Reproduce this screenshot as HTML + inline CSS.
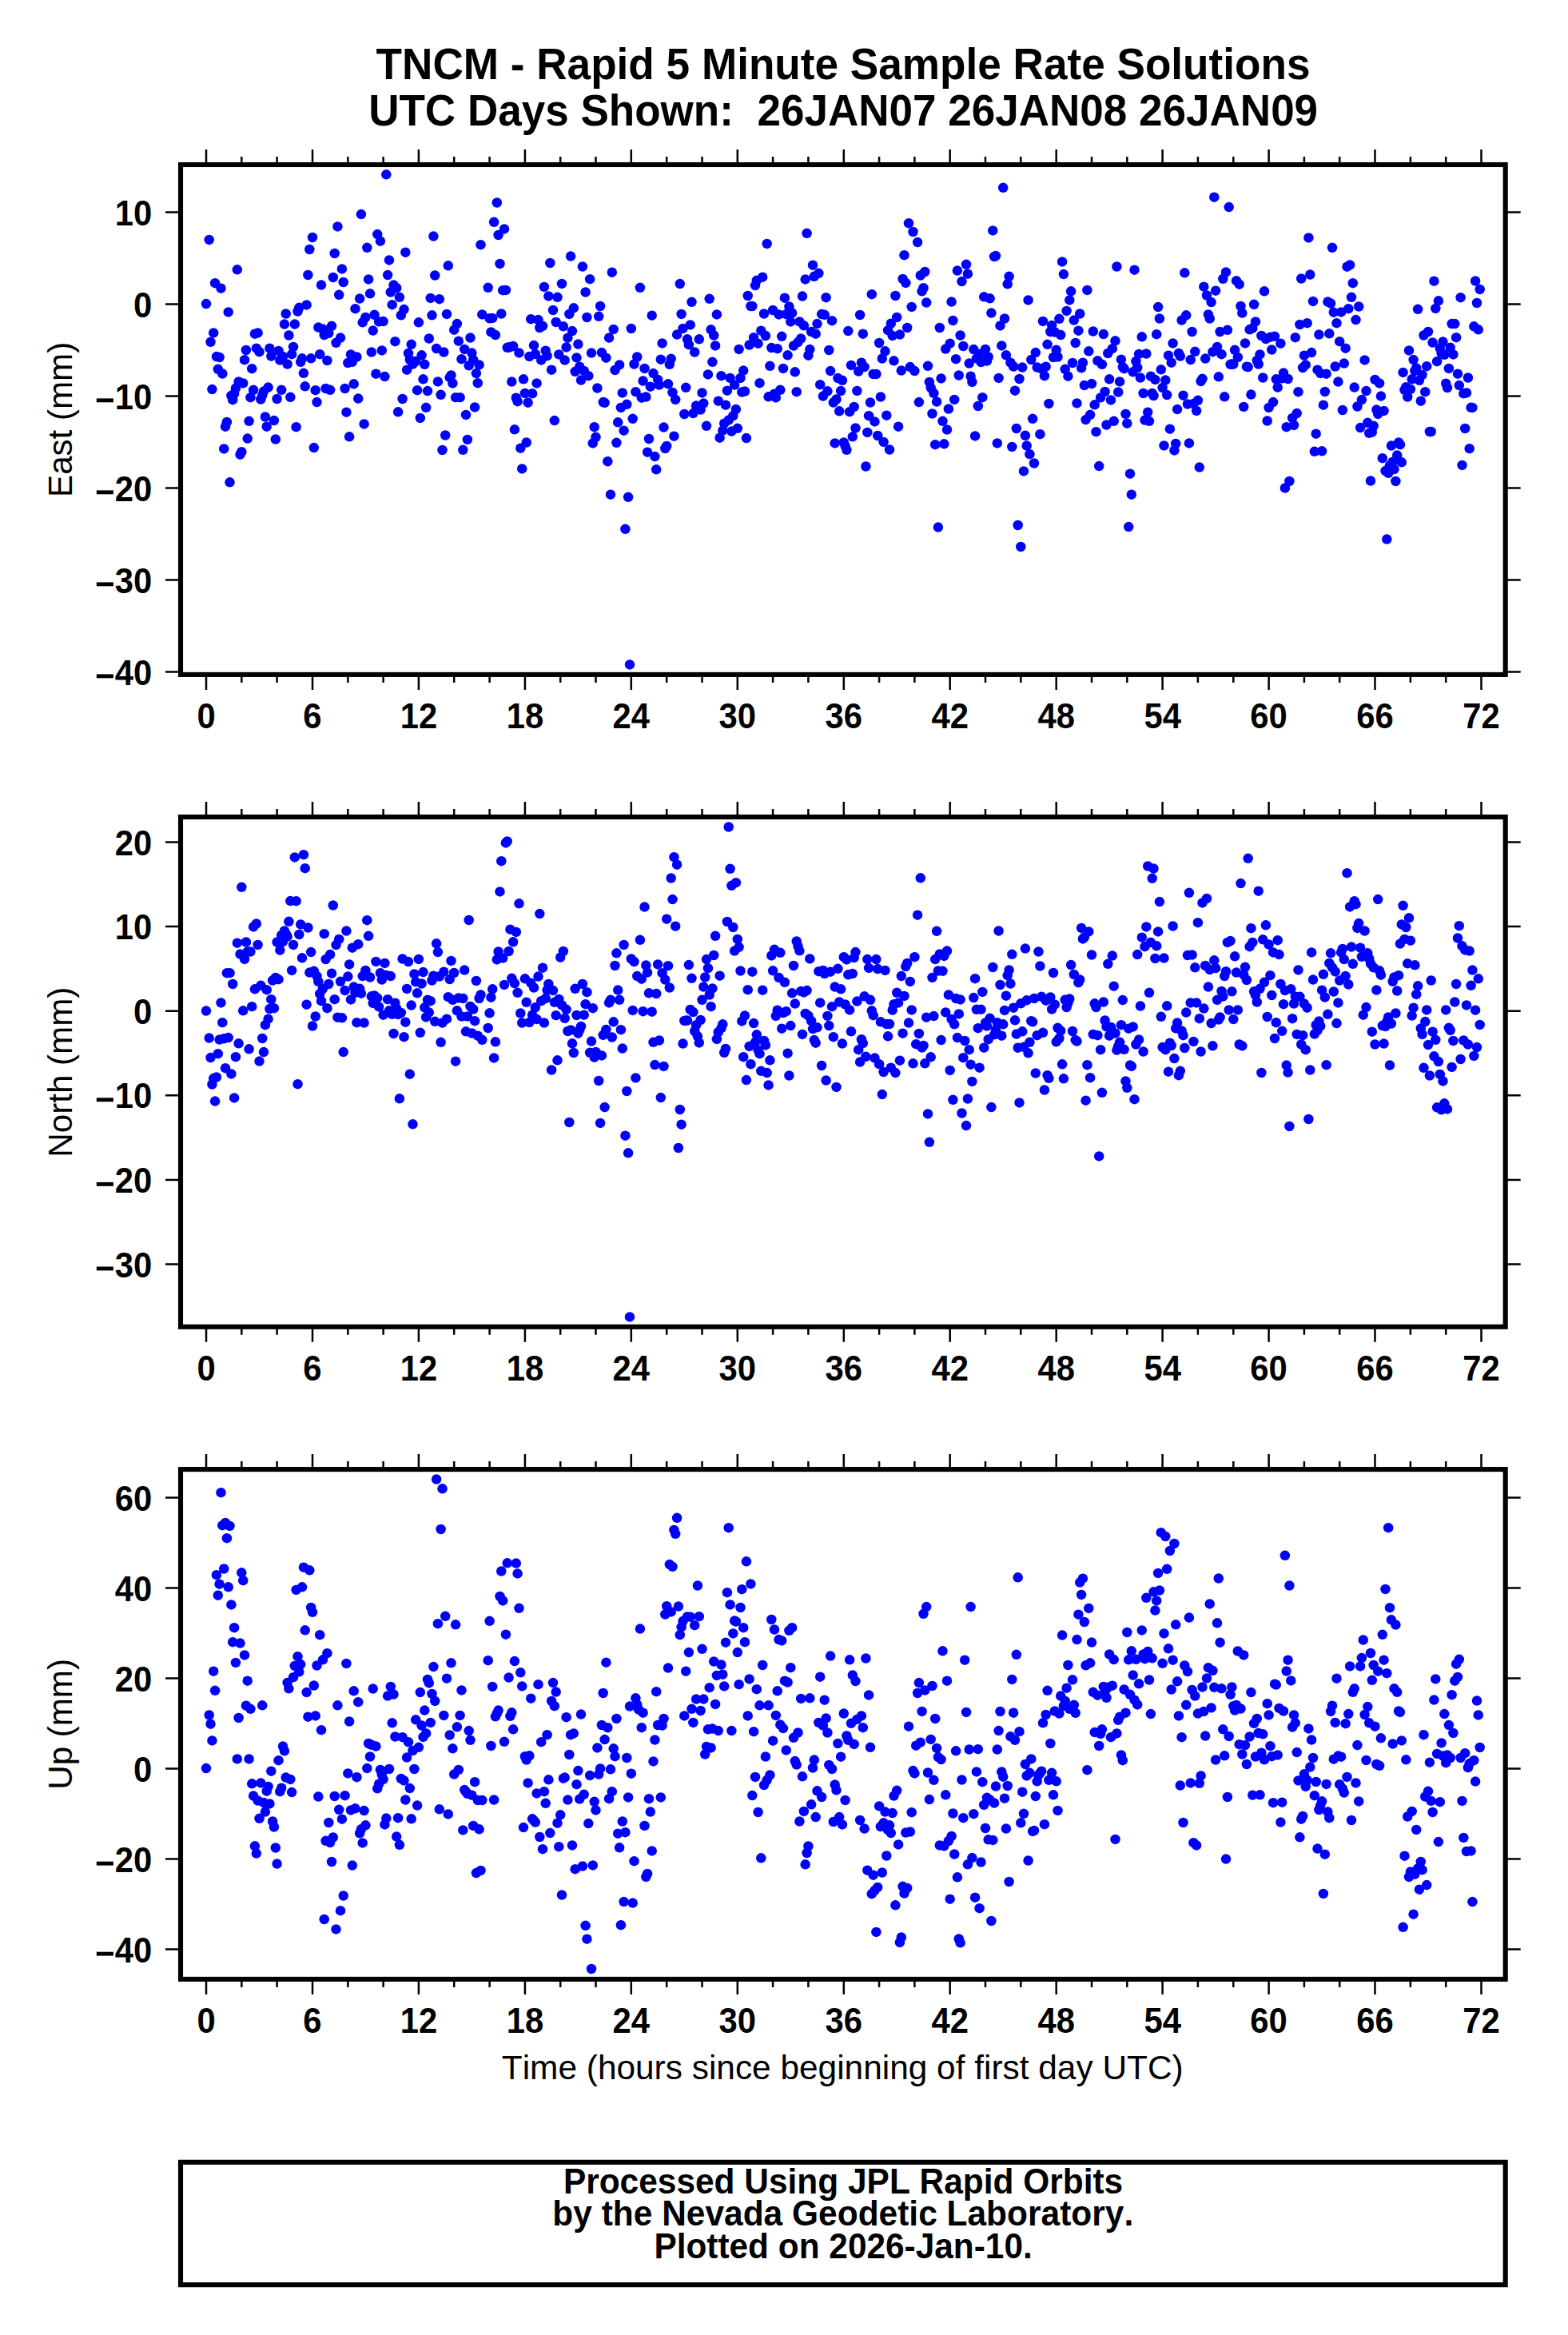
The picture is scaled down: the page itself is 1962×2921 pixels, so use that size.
<!DOCTYPE html>
<html><head><meta charset="utf-8"><title>TNCM</title>
<style>
html,body{margin:0;padding:0;background:#fff;}
svg{display:block;}
text{font-family:"Liberation Sans",sans-serif;fill:#000;font-kerning:none;white-space:pre;}
.b{font-weight:bold;}
.f{fill:none;stroke:#000;stroke-width:6.1;stroke-linejoin:miter;}
.t{stroke:#000;stroke-width:2.5;fill:none;}
.d{fill:#0000ff;}
</style></head><body>
<svg width="1962" height="2921" viewBox="0 0 1962 2921">
<rect x="0" y="0" width="1962" height="2921" fill="#fff"/>
<text class="b" font-size="54.4" transform="translate(470.60,99.0) scale(0.9767,1.035)">TNCM - Rapid 5 Minute Sample Rate Solutions</text>
<text class="b" font-size="54.4" transform="translate(461.17,156.8) scale(0.9752,1.035)">UTC Days Shown:  26JAN07 26JAN08 26JAN09</text>
<path class="t" d="M258.0 206.0v-19M258.0 843.9v19M302.3 206.0v-10M302.3 843.9v10M346.6 206.0v-10M346.6 843.9v10M391.0 206.0v-19M391.0 843.9v19M435.3 206.0v-10M435.3 843.9v10M479.6 206.0v-10M479.6 843.9v10M523.9 206.0v-19M523.9 843.9v19M568.2 206.0v-10M568.2 843.9v10M612.6 206.0v-10M612.6 843.9v10M656.9 206.0v-19M656.9 843.9v19M701.2 206.0v-10M701.2 843.9v10M745.5 206.0v-10M745.5 843.9v10M789.8 206.0v-19M789.8 843.9v19M834.2 206.0v-10M834.2 843.9v10M878.5 206.0v-10M878.5 843.9v10M922.8 206.0v-19M922.8 843.9v19M967.1 206.0v-10M967.1 843.9v10M1011.4 206.0v-10M1011.4 843.9v10M1055.8 206.0v-19M1055.8 843.9v19M1100.1 206.0v-10M1100.1 843.9v10M1144.4 206.0v-10M1144.4 843.9v10M1188.7 206.0v-19M1188.7 843.9v19M1233.0 206.0v-10M1233.0 843.9v10M1277.3 206.0v-10M1277.3 843.9v10M1321.7 206.0v-19M1321.7 843.9v19M1366.0 206.0v-10M1366.0 843.9v10M1410.3 206.0v-10M1410.3 843.9v10M1454.6 206.0v-19M1454.6 843.9v19M1498.9 206.0v-10M1498.9 843.9v10M1543.3 206.0v-10M1543.3 843.9v10M1587.6 206.0v-19M1587.6 843.9v19M1631.9 206.0v-10M1631.9 843.9v10M1676.2 206.0v-10M1676.2 843.9v10M1720.5 206.0v-19M1720.5 843.9v19M1764.9 206.0v-10M1764.9 843.9v10M1809.2 206.0v-10M1809.2 843.9v10M1853.5 206.0v-19M1853.5 843.9v19M226.0 265.4h-19M1883.7 265.4h19M226.0 380.4h-19M1883.7 380.4h19M226.0 495.4h-19M1883.7 495.4h19M226.0 610.4h-19M1883.7 610.4h19M226.0 725.4h-19M1883.7 725.4h19M226.0 840.4h-19M1883.7 840.4h19"/>
<g class="d">
<circle cx="258.0" cy="380.1" r="6.25"/><circle cx="261.7" cy="299.9" r="6.25"/><circle cx="263.5" cy="427.8" r="6.25"/><circle cx="265.4" cy="487.1" r="6.25"/><circle cx="267.2" cy="416.4" r="6.25"/><circle cx="269.1" cy="354.2" r="6.25"/><circle cx="270.9" cy="446.1" r="6.25"/><circle cx="272.8" cy="461.8" r="6.25"/>
<circle cx="274.6" cy="447.0" r="6.25"/><circle cx="276.5" cy="360.7" r="6.25"/><circle cx="278.3" cy="467.5" r="6.25"/><circle cx="280.2" cy="561.4" r="6.25"/><circle cx="282.0" cy="533.7" r="6.25"/><circle cx="283.9" cy="527.9" r="6.25"/><circle cx="285.7" cy="390.4" r="6.25"/><circle cx="287.5" cy="603.3" r="6.25"/>
<circle cx="289.4" cy="495.0" r="6.25"/><circle cx="291.2" cy="500.2" r="6.25"/><circle cx="293.1" cy="492.3" r="6.25"/><circle cx="294.9" cy="485.7" r="6.25"/><circle cx="296.8" cy="337.3" r="6.25"/><circle cx="298.6" cy="477.4" r="6.25"/><circle cx="300.5" cy="568.7" r="6.25"/><circle cx="302.3" cy="565.2" r="6.25"/>
<circle cx="304.2" cy="479.4" r="6.25"/><circle cx="306.0" cy="450.2" r="6.25"/><circle cx="307.9" cy="438.0" r="6.25"/><circle cx="309.7" cy="548.6" r="6.25"/><circle cx="311.6" cy="526.8" r="6.25"/><circle cx="313.4" cy="497.2" r="6.25"/><circle cx="315.2" cy="461.2" r="6.25"/><circle cx="317.1" cy="487.8" r="6.25"/>
<circle cx="318.9" cy="417.7" r="6.25"/><circle cx="320.8" cy="435.7" r="6.25"/><circle cx="322.6" cy="416.4" r="6.25"/><circle cx="324.5" cy="440.2" r="6.25"/><circle cx="326.3" cy="499.5" r="6.25"/><circle cx="328.2" cy="494.6" r="6.25"/><circle cx="330.0" cy="489.6" r="6.25"/><circle cx="331.9" cy="521.5" r="6.25"/>
<circle cx="333.7" cy="533.7" r="6.25"/><circle cx="335.6" cy="484.6" r="6.25"/><circle cx="337.4" cy="435.7" r="6.25"/><circle cx="339.3" cy="445.6" r="6.25"/><circle cx="342.9" cy="526.1" r="6.25"/><circle cx="344.8" cy="549.5" r="6.25"/><circle cx="346.6" cy="499.0" r="6.25"/><circle cx="348.5" cy="438.9" r="6.25"/>
<circle cx="350.3" cy="450.6" r="6.25"/><circle cx="352.2" cy="487.8" r="6.25"/><circle cx="354.0" cy="445.9" r="6.25"/><circle cx="355.9" cy="405.6" r="6.25"/><circle cx="357.7" cy="392.5" r="6.25"/><circle cx="359.6" cy="455.5" r="6.25"/><circle cx="361.4" cy="419.5" r="6.25"/><circle cx="363.3" cy="496.8" r="6.25"/>
<circle cx="365.1" cy="443.2" r="6.25"/><circle cx="367.0" cy="433.9" r="6.25"/><circle cx="368.8" cy="405.6" r="6.25"/><circle cx="370.6" cy="534.2" r="6.25"/><circle cx="372.5" cy="389.5" r="6.25"/><circle cx="374.3" cy="384.8" r="6.25"/><circle cx="376.2" cy="452.8" r="6.25"/><circle cx="378.0" cy="448.3" r="6.25"/>
<circle cx="379.9" cy="466.8" r="6.25"/><circle cx="381.7" cy="483.3" r="6.25"/><circle cx="383.6" cy="381.4" r="6.25"/><circle cx="385.4" cy="344.0" r="6.25"/><circle cx="387.3" cy="312.0" r="6.25"/><circle cx="389.1" cy="448.3" r="6.25"/><circle cx="391.0" cy="297.0" r="6.25"/><circle cx="392.8" cy="560.1" r="6.25"/>
<circle cx="394.7" cy="488.2" r="6.25"/><circle cx="396.5" cy="503.1" r="6.25"/><circle cx="398.3" cy="409.6" r="6.25"/><circle cx="400.2" cy="443.2" r="6.25"/><circle cx="402.0" cy="356.6" r="6.25"/><circle cx="403.9" cy="411.4" r="6.25"/><circle cx="405.7" cy="419.0" r="6.25"/><circle cx="407.6" cy="486.0" r="6.25"/>
<circle cx="409.4" cy="451.0" r="6.25"/><circle cx="411.3" cy="416.8" r="6.25"/><circle cx="413.1" cy="487.8" r="6.25"/><circle cx="415.0" cy="407.8" r="6.25"/><circle cx="416.8" cy="347.0" r="6.25"/><circle cx="418.7" cy="317.0" r="6.25"/><circle cx="420.5" cy="428.8" r="6.25"/><circle cx="422.4" cy="283.4" r="6.25"/>
<circle cx="424.2" cy="368.8" r="6.25"/><circle cx="426.0" cy="422.6" r="6.25"/><circle cx="427.9" cy="336.4" r="6.25"/><circle cx="429.7" cy="353.0" r="6.25"/><circle cx="431.6" cy="486.0" r="6.25"/><circle cx="433.4" cy="515.7" r="6.25"/><circle cx="435.3" cy="454.0" r="6.25"/><circle cx="437.1" cy="546.3" r="6.25"/>
<circle cx="439.0" cy="443.4" r="6.25"/><circle cx="440.8" cy="452.8" r="6.25"/><circle cx="442.7" cy="480.3" r="6.25"/><circle cx="444.5" cy="386.2" r="6.25"/><circle cx="446.4" cy="446.5" r="6.25"/><circle cx="448.2" cy="498.6" r="6.25"/><circle cx="450.1" cy="373.6" r="6.25"/><circle cx="451.9" cy="268.1" r="6.25"/>
<circle cx="453.7" cy="403.3" r="6.25"/><circle cx="455.6" cy="530.4" r="6.25"/><circle cx="457.4" cy="397.0" r="6.25"/><circle cx="459.3" cy="309.8" r="6.25"/><circle cx="461.1" cy="349.4" r="6.25"/><circle cx="463.0" cy="367.3" r="6.25"/><circle cx="464.8" cy="440.5" r="6.25"/><circle cx="466.7" cy="413.6" r="6.25"/>
<circle cx="468.5" cy="393.8" r="6.25"/><circle cx="470.4" cy="467.7" r="6.25"/><circle cx="472.2" cy="293.1" r="6.25"/><circle cx="474.1" cy="402.4" r="6.25"/><circle cx="475.9" cy="301.7" r="6.25"/><circle cx="477.8" cy="438.4" r="6.25"/><circle cx="479.6" cy="402.1" r="6.25"/><circle cx="481.4" cy="471.1" r="6.25"/>
<circle cx="483.3" cy="218.3" r="6.25"/><circle cx="485.1" cy="344.1" r="6.25"/><circle cx="487.0" cy="325.4" r="6.25"/><circle cx="488.8" cy="365.5" r="6.25"/><circle cx="490.7" cy="381.2" r="6.25"/><circle cx="492.5" cy="356.6" r="6.25"/><circle cx="494.4" cy="427.2" r="6.25"/><circle cx="496.2" cy="360.2" r="6.25"/>
<circle cx="498.1" cy="515.3" r="6.25"/><circle cx="499.9" cy="371.8" r="6.25"/><circle cx="501.8" cy="394.3" r="6.25"/><circle cx="503.6" cy="499.0" r="6.25"/><circle cx="505.5" cy="387.1" r="6.25"/><circle cx="507.3" cy="315.7" r="6.25"/><circle cx="509.1" cy="462.7" r="6.25"/><circle cx="511.0" cy="442.0" r="6.25"/>
<circle cx="512.8" cy="450.1" r="6.25"/><circle cx="514.7" cy="430.8" r="6.25"/><circle cx="516.5" cy="455.5" r="6.25"/><circle cx="518.4" cy="452.8" r="6.25"/><circle cx="520.2" cy="451.9" r="6.25"/><circle cx="522.1" cy="488.2" r="6.25"/><circle cx="523.9" cy="403.3" r="6.25"/><circle cx="525.8" cy="522.9" r="6.25"/>
<circle cx="527.6" cy="444.3" r="6.25"/><circle cx="529.5" cy="474.3" r="6.25"/><circle cx="531.3" cy="455.8" r="6.25"/><circle cx="533.1" cy="509.8" r="6.25"/><circle cx="535.0" cy="489.1" r="6.25"/><circle cx="536.8" cy="423.5" r="6.25"/><circle cx="538.7" cy="372.9" r="6.25"/><circle cx="540.5" cy="394.3" r="6.25"/>
<circle cx="542.4" cy="295.6" r="6.25"/><circle cx="544.2" cy="344.5" r="6.25"/><circle cx="546.1" cy="436.0" r="6.25"/><circle cx="547.9" cy="477.4" r="6.25"/><circle cx="549.8" cy="374.2" r="6.25"/><circle cx="551.6" cy="493.8" r="6.25"/><circle cx="553.5" cy="563.0" r="6.25"/><circle cx="555.3" cy="440.5" r="6.25"/>
<circle cx="557.2" cy="544.5" r="6.25"/><circle cx="559.0" cy="392.9" r="6.25"/><circle cx="560.8" cy="332.3" r="6.25"/><circle cx="562.7" cy="472.2" r="6.25"/><circle cx="564.5" cy="469.5" r="6.25"/><circle cx="566.4" cy="479.4" r="6.25"/><circle cx="568.2" cy="412.7" r="6.25"/><circle cx="570.1" cy="497.2" r="6.25"/>
<circle cx="571.9" cy="405.1" r="6.25"/><circle cx="573.8" cy="426.7" r="6.25"/><circle cx="575.6" cy="497.2" r="6.25"/><circle cx="577.5" cy="449.2" r="6.25"/><circle cx="579.3" cy="562.8" r="6.25"/><circle cx="581.2" cy="436.9" r="6.25"/><circle cx="583.0" cy="518.9" r="6.25"/><circle cx="584.9" cy="549.9" r="6.25"/>
<circle cx="586.7" cy="457.3" r="6.25"/><circle cx="588.5" cy="422.6" r="6.25"/><circle cx="590.4" cy="441.6" r="6.25"/><circle cx="592.2" cy="450.1" r="6.25"/><circle cx="594.1" cy="509.4" r="6.25"/><circle cx="595.9" cy="467.1" r="6.25"/><circle cx="597.8" cy="479.2" r="6.25"/><circle cx="599.6" cy="456.4" r="6.25"/>
<circle cx="601.5" cy="306.2" r="6.25"/><circle cx="603.3" cy="393.4" r="6.25"/><circle cx="610.7" cy="359.8" r="6.25"/><circle cx="612.6" cy="398.3" r="6.25"/><circle cx="614.4" cy="415.4" r="6.25"/><circle cx="616.2" cy="397.9" r="6.25"/><circle cx="618.1" cy="277.8" r="6.25"/><circle cx="619.9" cy="419.1" r="6.25"/>
<circle cx="621.8" cy="253.5" r="6.25"/><circle cx="623.6" cy="294.0" r="6.25"/><circle cx="625.5" cy="329.9" r="6.25"/><circle cx="627.3" cy="392.5" r="6.25"/><circle cx="629.2" cy="363.2" r="6.25"/><circle cx="631.0" cy="286.4" r="6.25"/><circle cx="632.9" cy="362.9" r="6.25"/><circle cx="634.7" cy="434.8" r="6.25"/>
<circle cx="636.6" cy="434.5" r="6.25"/><circle cx="638.4" cy="434.2" r="6.25"/><circle cx="640.3" cy="477.6" r="6.25"/><circle cx="642.1" cy="433.0" r="6.25"/><circle cx="643.9" cy="537.3" r="6.25"/><circle cx="645.8" cy="497.7" r="6.25"/><circle cx="647.6" cy="502.2" r="6.25"/><circle cx="649.5" cy="441.4" r="6.25"/>
<circle cx="651.3" cy="560.7" r="6.25"/><circle cx="653.2" cy="586.4" r="6.25"/><circle cx="655.0" cy="474.3" r="6.25"/><circle cx="656.9" cy="492.0" r="6.25"/><circle cx="658.7" cy="553.5" r="6.25"/><circle cx="660.6" cy="503.7" r="6.25"/><circle cx="662.4" cy="445.9" r="6.25"/><circle cx="664.3" cy="399.2" r="6.25"/>
<circle cx="666.1" cy="492.3" r="6.25"/><circle cx="668.0" cy="432.1" r="6.25"/><circle cx="669.8" cy="442.9" r="6.25"/><circle cx="671.6" cy="479.4" r="6.25"/><circle cx="673.5" cy="400.1" r="6.25"/><circle cx="675.3" cy="410.0" r="6.25"/><circle cx="677.2" cy="450.4" r="6.25"/><circle cx="679.0" cy="407.8" r="6.25"/>
<circle cx="680.9" cy="358.9" r="6.25"/><circle cx="682.7" cy="438.7" r="6.25"/><circle cx="684.6" cy="445.2" r="6.25"/><circle cx="686.4" cy="370.4" r="6.25"/><circle cx="688.3" cy="329.0" r="6.25"/><circle cx="690.1" cy="462.7" r="6.25"/><circle cx="692.0" cy="388.0" r="6.25"/><circle cx="693.8" cy="526.1" r="6.25"/>
<circle cx="695.7" cy="403.0" r="6.25"/><circle cx="697.5" cy="371.8" r="6.25"/><circle cx="699.3" cy="443.4" r="6.25"/><circle cx="703.0" cy="354.9" r="6.25"/><circle cx="704.9" cy="408.3" r="6.25"/><circle cx="706.7" cy="450.6" r="6.25"/><circle cx="708.6" cy="434.4" r="6.25"/><circle cx="710.4" cy="422.7" r="6.25"/>
<circle cx="712.3" cy="392.9" r="6.25"/><circle cx="714.1" cy="320.6" r="6.25"/><circle cx="716.0" cy="414.1" r="6.25"/><circle cx="717.8" cy="385.3" r="6.25"/><circle cx="719.7" cy="464.8" r="6.25"/><circle cx="721.5" cy="447.4" r="6.25"/><circle cx="723.4" cy="430.6" r="6.25"/><circle cx="725.2" cy="458.7" r="6.25"/>
<circle cx="727.0" cy="475.6" r="6.25"/><circle cx="728.9" cy="333.5" r="6.25"/><circle cx="730.7" cy="463.9" r="6.25"/><circle cx="732.6" cy="365.5" r="6.25"/><circle cx="734.4" cy="397.0" r="6.25"/><circle cx="736.3" cy="470.2" r="6.25"/><circle cx="738.1" cy="349.2" r="6.25"/><circle cx="740.0" cy="441.6" r="6.25"/>
<circle cx="741.8" cy="554.4" r="6.25"/><circle cx="743.7" cy="534.2" r="6.25"/><circle cx="745.5" cy="546.8" r="6.25"/><circle cx="747.4" cy="485.5" r="6.25"/><circle cx="749.2" cy="395.8" r="6.25"/><circle cx="751.1" cy="383.0" r="6.25"/><circle cx="752.9" cy="441.1" r="6.25"/><circle cx="754.7" cy="503.1" r="6.25"/>
<circle cx="756.6" cy="503.8" r="6.25"/><circle cx="758.4" cy="447.7" r="6.25"/><circle cx="760.3" cy="577.2" r="6.25"/><circle cx="762.1" cy="422.6" r="6.25"/><circle cx="764.0" cy="618.7" r="6.25"/><circle cx="765.8" cy="340.7" r="6.25"/><circle cx="767.7" cy="411.9" r="6.25"/><circle cx="769.5" cy="463.0" r="6.25"/>
<circle cx="771.4" cy="553.8" r="6.25"/><circle cx="773.2" cy="528.3" r="6.25"/><circle cx="775.1" cy="456.4" r="6.25"/><circle cx="776.9" cy="509.9" r="6.25"/><circle cx="778.8" cy="491.4" r="6.25"/><circle cx="780.6" cy="538.7" r="6.25"/><circle cx="782.4" cy="661.8" r="6.25"/><circle cx="784.3" cy="505.8" r="6.25"/>
<circle cx="786.1" cy="621.8" r="6.25"/><circle cx="788.0" cy="831.4" r="6.25"/><circle cx="789.8" cy="411.0" r="6.25"/><circle cx="791.7" cy="523.8" r="6.25"/><circle cx="793.5" cy="455.5" r="6.25"/><circle cx="795.4" cy="490.2" r="6.25"/><circle cx="797.2" cy="446.5" r="6.25"/><circle cx="800.9" cy="359.8" r="6.25"/>
<circle cx="802.8" cy="497.7" r="6.25"/><circle cx="804.6" cy="476.5" r="6.25"/><circle cx="806.5" cy="460.9" r="6.25"/><circle cx="808.3" cy="496.5" r="6.25"/><circle cx="810.1" cy="565.7" r="6.25"/><circle cx="812.0" cy="549.0" r="6.25"/><circle cx="813.8" cy="483.7" r="6.25"/><circle cx="815.7" cy="394.7" r="6.25"/>
<circle cx="817.5" cy="467.1" r="6.25"/><circle cx="819.4" cy="571.1" r="6.25"/><circle cx="821.2" cy="587.3" r="6.25"/><circle cx="823.1" cy="474.9" r="6.25"/><circle cx="824.9" cy="481.5" r="6.25"/><circle cx="826.8" cy="449.7" r="6.25"/><circle cx="828.6" cy="429.4" r="6.25"/><circle cx="830.5" cy="534.6" r="6.25"/>
<circle cx="832.3" cy="561.0" r="6.25"/><circle cx="834.2" cy="558.0" r="6.25"/><circle cx="836.0" cy="480.3" r="6.25"/><circle cx="837.8" cy="455.8" r="6.25"/><circle cx="839.7" cy="448.8" r="6.25"/><circle cx="841.5" cy="490.9" r="6.25"/><circle cx="843.4" cy="545.7" r="6.25"/><circle cx="845.2" cy="499.9" r="6.25"/>
<circle cx="847.1" cy="418.6" r="6.25"/><circle cx="850.8" cy="355.1" r="6.25"/><circle cx="852.6" cy="392.9" r="6.25"/><circle cx="854.5" cy="410.9" r="6.25"/><circle cx="856.3" cy="518.0" r="6.25"/><circle cx="858.2" cy="484.8" r="6.25"/><circle cx="860.0" cy="424.3" r="6.25"/><circle cx="861.9" cy="431.2" r="6.25"/>
<circle cx="863.7" cy="406.4" r="6.25"/><circle cx="865.5" cy="377.8" r="6.25"/><circle cx="867.4" cy="517.1" r="6.25"/><circle cx="869.2" cy="440.5" r="6.25"/><circle cx="871.1" cy="507.6" r="6.25"/><circle cx="874.8" cy="424.3" r="6.25"/><circle cx="876.6" cy="512.5" r="6.25"/><circle cx="878.5" cy="491.4" r="6.25"/>
<circle cx="880.3" cy="504.6" r="6.25"/><circle cx="884.0" cy="532.8" r="6.25"/><circle cx="885.9" cy="468.4" r="6.25"/><circle cx="887.7" cy="373.8" r="6.25"/><circle cx="889.6" cy="412.3" r="6.25"/><circle cx="891.4" cy="452.8" r="6.25"/><circle cx="893.2" cy="419.5" r="6.25"/><circle cx="895.1" cy="432.4" r="6.25"/>
<circle cx="896.9" cy="393.4" r="6.25"/><circle cx="898.8" cy="501.7" r="6.25"/><circle cx="900.6" cy="547.7" r="6.25"/><circle cx="902.5" cy="470.2" r="6.25"/><circle cx="904.3" cy="538.7" r="6.25"/><circle cx="906.2" cy="529.7" r="6.25"/><circle cx="908.0" cy="506.7" r="6.25"/><circle cx="909.9" cy="488.7" r="6.25"/>
<circle cx="911.7" cy="525.6" r="6.25"/><circle cx="913.6" cy="472.9" r="6.25"/><circle cx="915.4" cy="539.6" r="6.25"/><circle cx="917.3" cy="520.2" r="6.25"/><circle cx="919.1" cy="481.5" r="6.25"/><circle cx="920.9" cy="512.1" r="6.25"/><circle cx="922.8" cy="535.8" r="6.25"/><circle cx="924.6" cy="436.9" r="6.25"/>
<circle cx="926.5" cy="472.9" r="6.25"/><circle cx="928.3" cy="490.5" r="6.25"/><circle cx="930.2" cy="463.6" r="6.25"/><circle cx="932.0" cy="489.6" r="6.25"/><circle cx="933.9" cy="548.1" r="6.25"/><circle cx="935.7" cy="370.0" r="6.25"/><circle cx="937.6" cy="431.5" r="6.25"/><circle cx="939.4" cy="383.0" r="6.25"/>
<circle cx="941.3" cy="383.0" r="6.25"/><circle cx="943.1" cy="422.2" r="6.25"/><circle cx="945.0" cy="357.1" r="6.25"/><circle cx="946.8" cy="350.8" r="6.25"/><circle cx="948.6" cy="429.7" r="6.25"/><circle cx="950.5" cy="479.2" r="6.25"/><circle cx="952.3" cy="413.7" r="6.25"/><circle cx="954.2" cy="346.7" r="6.25"/>
<circle cx="956.0" cy="392.5" r="6.25"/><circle cx="957.9" cy="420.0" r="6.25"/><circle cx="959.7" cy="304.9" r="6.25"/><circle cx="961.6" cy="496.3" r="6.25"/><circle cx="963.4" cy="457.8" r="6.25"/><circle cx="965.3" cy="435.1" r="6.25"/><circle cx="967.1" cy="388.0" r="6.25"/><circle cx="969.0" cy="492.7" r="6.25"/>
<circle cx="970.8" cy="497.4" r="6.25"/><circle cx="972.7" cy="436.2" r="6.25"/><circle cx="974.5" cy="393.4" r="6.25"/><circle cx="976.3" cy="487.8" r="6.25"/><circle cx="978.2" cy="420.8" r="6.25"/><circle cx="980.0" cy="460.9" r="6.25"/><circle cx="981.9" cy="372.7" r="6.25"/><circle cx="983.7" cy="393.1" r="6.25"/>
<circle cx="985.6" cy="444.3" r="6.25"/><circle cx="987.4" cy="383.5" r="6.25"/><circle cx="989.3" cy="402.4" r="6.25"/><circle cx="991.1" cy="391.6" r="6.25"/><circle cx="993.0" cy="432.6" r="6.25"/><circle cx="994.8" cy="465.3" r="6.25"/><circle cx="996.7" cy="490.2" r="6.25"/><circle cx="998.5" cy="428.1" r="6.25"/>
<circle cx="1000.4" cy="402.4" r="6.25"/><circle cx="1002.2" cy="423.6" r="6.25"/><circle cx="1004.0" cy="370.6" r="6.25"/><circle cx="1005.9" cy="407.3" r="6.25"/><circle cx="1007.7" cy="349.4" r="6.25"/><circle cx="1009.6" cy="291.8" r="6.25"/><circle cx="1011.4" cy="444.7" r="6.25"/><circle cx="1013.3" cy="437.1" r="6.25"/>
<circle cx="1015.1" cy="415.0" r="6.25"/><circle cx="1017.0" cy="331.7" r="6.25"/><circle cx="1018.8" cy="345.8" r="6.25"/><circle cx="1020.7" cy="417.7" r="6.25"/><circle cx="1022.5" cy="405.1" r="6.25"/><circle cx="1024.4" cy="341.8" r="6.25"/><circle cx="1026.2" cy="481.2" r="6.25"/><circle cx="1028.1" cy="393.1" r="6.25"/>
<circle cx="1029.9" cy="495.6" r="6.25"/><circle cx="1031.7" cy="393.8" r="6.25"/><circle cx="1033.6" cy="372.2" r="6.25"/><circle cx="1035.4" cy="489.3" r="6.25"/><circle cx="1037.3" cy="438.0" r="6.25"/><circle cx="1039.1" cy="464.1" r="6.25"/><circle cx="1041.0" cy="401.2" r="6.25"/><circle cx="1042.8" cy="503.5" r="6.25"/>
<circle cx="1044.7" cy="554.4" r="6.25"/><circle cx="1046.5" cy="499.5" r="6.25"/><circle cx="1048.4" cy="473.1" r="6.25"/><circle cx="1050.2" cy="514.3" r="6.25"/><circle cx="1052.1" cy="489.1" r="6.25"/><circle cx="1053.9" cy="475.8" r="6.25"/><circle cx="1055.8" cy="553.5" r="6.25"/><circle cx="1057.6" cy="558.1" r="6.25"/>
<circle cx="1059.4" cy="562.8" r="6.25"/><circle cx="1061.3" cy="414.1" r="6.25"/><circle cx="1063.1" cy="515.2" r="6.25"/><circle cx="1065.0" cy="456.9" r="6.25"/><circle cx="1066.8" cy="546.3" r="6.25"/><circle cx="1068.7" cy="508.9" r="6.25"/><circle cx="1070.5" cy="535.5" r="6.25"/><circle cx="1072.4" cy="488.9" r="6.25"/>
<circle cx="1074.2" cy="464.5" r="6.25"/><circle cx="1076.1" cy="394.0" r="6.25"/><circle cx="1077.9" cy="453.7" r="6.25"/><circle cx="1079.8" cy="417.7" r="6.25"/><circle cx="1081.6" cy="459.1" r="6.25"/><circle cx="1083.4" cy="583.5" r="6.25"/><circle cx="1085.3" cy="540.9" r="6.25"/><circle cx="1087.1" cy="520.2" r="6.25"/>
<circle cx="1089.0" cy="503.5" r="6.25"/><circle cx="1090.8" cy="368.2" r="6.25"/><circle cx="1092.7" cy="468.0" r="6.25"/><circle cx="1094.5" cy="527.4" r="6.25"/><circle cx="1096.4" cy="468.0" r="6.25"/><circle cx="1098.2" cy="545.0" r="6.25"/><circle cx="1100.1" cy="429.0" r="6.25"/><circle cx="1101.9" cy="496.5" r="6.25"/>
<circle cx="1103.8" cy="448.6" r="6.25"/><circle cx="1105.6" cy="552.9" r="6.25"/><circle cx="1107.5" cy="439.3" r="6.25"/><circle cx="1109.3" cy="519.7" r="6.25"/><circle cx="1111.1" cy="413.2" r="6.25"/><circle cx="1113.0" cy="562.5" r="6.25"/><circle cx="1114.8" cy="404.7" r="6.25"/><circle cx="1116.7" cy="419.9" r="6.25"/>
<circle cx="1118.5" cy="451.3" r="6.25"/><circle cx="1120.4" cy="370.0" r="6.25"/><circle cx="1122.2" cy="397.0" r="6.25"/><circle cx="1124.1" cy="533.7" r="6.25"/><circle cx="1125.9" cy="418.6" r="6.25"/><circle cx="1127.8" cy="463.6" r="6.25"/><circle cx="1129.6" cy="349.0" r="6.25"/><circle cx="1131.5" cy="319.2" r="6.25"/>
<circle cx="1133.3" cy="353.9" r="6.25"/><circle cx="1135.2" cy="410.0" r="6.25"/><circle cx="1137.0" cy="279.2" r="6.25"/><circle cx="1138.8" cy="459.1" r="6.25"/><circle cx="1140.7" cy="383.9" r="6.25"/><circle cx="1142.5" cy="290.0" r="6.25"/><circle cx="1144.4" cy="464.1" r="6.25"/><circle cx="1148.1" cy="303.1" r="6.25"/>
<circle cx="1149.9" cy="503.1" r="6.25"/><circle cx="1151.8" cy="344.5" r="6.25"/><circle cx="1153.6" cy="364.3" r="6.25"/><circle cx="1155.5" cy="360.2" r="6.25"/><circle cx="1157.3" cy="340.0" r="6.25"/><circle cx="1159.2" cy="378.5" r="6.25"/><circle cx="1161.0" cy="457.8" r="6.25"/><circle cx="1162.9" cy="477.9" r="6.25"/>
<circle cx="1164.7" cy="485.1" r="6.25"/><circle cx="1166.5" cy="517.5" r="6.25"/><circle cx="1168.4" cy="491.8" r="6.25"/><circle cx="1170.2" cy="556.2" r="6.25"/><circle cx="1172.1" cy="502.6" r="6.25"/><circle cx="1173.9" cy="659.6" r="6.25"/><circle cx="1175.8" cy="410.0" r="6.25"/><circle cx="1177.6" cy="473.4" r="6.25"/>
<circle cx="1179.5" cy="526.8" r="6.25"/><circle cx="1181.3" cy="555.3" r="6.25"/><circle cx="1183.2" cy="436.6" r="6.25"/><circle cx="1185.0" cy="537.6" r="6.25"/><circle cx="1186.9" cy="511.6" r="6.25"/><circle cx="1188.7" cy="429.7" r="6.25"/><circle cx="1190.6" cy="377.6" r="6.25"/><circle cx="1192.4" cy="401.0" r="6.25"/>
<circle cx="1194.2" cy="499.9" r="6.25"/><circle cx="1196.1" cy="449.2" r="6.25"/><circle cx="1197.9" cy="338.6" r="6.25"/><circle cx="1199.8" cy="469.5" r="6.25"/><circle cx="1201.6" cy="419.5" r="6.25"/><circle cx="1203.5" cy="352.1" r="6.25"/><circle cx="1205.3" cy="433.0" r="6.25"/><circle cx="1209.0" cy="330.8" r="6.25"/>
<circle cx="1210.9" cy="342.7" r="6.25"/><circle cx="1212.7" cy="454.6" r="6.25"/><circle cx="1214.6" cy="470.7" r="6.25"/><circle cx="1216.4" cy="477.9" r="6.25"/><circle cx="1218.3" cy="437.1" r="6.25"/><circle cx="1220.1" cy="545.4" r="6.25"/><circle cx="1221.9" cy="448.3" r="6.25"/><circle cx="1223.8" cy="508.0" r="6.25"/>
<circle cx="1225.6" cy="442.9" r="6.25"/><circle cx="1227.5" cy="453.1" r="6.25"/><circle cx="1229.3" cy="497.2" r="6.25"/><circle cx="1231.2" cy="371.3" r="6.25"/><circle cx="1233.0" cy="436.9" r="6.25"/><circle cx="1234.9" cy="451.5" r="6.25"/><circle cx="1236.7" cy="446.5" r="6.25"/><circle cx="1238.6" cy="373.3" r="6.25"/>
<circle cx="1240.4" cy="391.6" r="6.25"/><circle cx="1242.3" cy="288.4" r="6.25"/><circle cx="1244.1" cy="321.0" r="6.25"/><circle cx="1246.0" cy="320.1" r="6.25"/><circle cx="1247.8" cy="554.4" r="6.25"/><circle cx="1249.6" cy="472.9" r="6.25"/><circle cx="1251.5" cy="407.4" r="6.25"/><circle cx="1253.3" cy="432.4" r="6.25"/>
<circle cx="1255.2" cy="234.8" r="6.25"/><circle cx="1257.0" cy="398.5" r="6.25"/><circle cx="1258.9" cy="444.3" r="6.25"/><circle cx="1260.7" cy="355.3" r="6.25"/><circle cx="1262.6" cy="345.8" r="6.25"/><circle cx="1264.4" cy="453.7" r="6.25"/><circle cx="1266.3" cy="558.9" r="6.25"/><circle cx="1268.1" cy="458.5" r="6.25"/>
<circle cx="1270.0" cy="488.7" r="6.25"/><circle cx="1271.8" cy="536.0" r="6.25"/><circle cx="1273.7" cy="657.0" r="6.25"/><circle cx="1275.5" cy="474.0" r="6.25"/><circle cx="1277.3" cy="684.0" r="6.25"/><circle cx="1279.2" cy="459.6" r="6.25"/><circle cx="1281.0" cy="589.4" r="6.25"/><circle cx="1282.9" cy="544.8" r="6.25"/>
<circle cx="1284.7" cy="557.6" r="6.25"/><circle cx="1286.6" cy="375.4" r="6.25"/><circle cx="1288.4" cy="568.2" r="6.25"/><circle cx="1290.3" cy="450.1" r="6.25"/><circle cx="1292.1" cy="523.8" r="6.25"/><circle cx="1294.0" cy="579.5" r="6.25"/><circle cx="1295.8" cy="441.1" r="6.25"/><circle cx="1297.7" cy="459.6" r="6.25"/>
<circle cx="1301.4" cy="543.2" r="6.25"/><circle cx="1303.2" cy="461.4" r="6.25"/><circle cx="1305.0" cy="401.9" r="6.25"/><circle cx="1306.9" cy="470.2" r="6.25"/><circle cx="1308.7" cy="458.7" r="6.25"/><circle cx="1310.6" cy="430.8" r="6.25"/><circle cx="1312.4" cy="504.9" r="6.25"/><circle cx="1314.3" cy="415.0" r="6.25"/>
<circle cx="1316.1" cy="406.9" r="6.25"/><circle cx="1318.0" cy="447.0" r="6.25"/><circle cx="1319.8" cy="415.5" r="6.25"/><circle cx="1321.7" cy="437.8" r="6.25"/><circle cx="1323.5" cy="446.5" r="6.25"/><circle cx="1325.4" cy="398.8" r="6.25"/><circle cx="1327.2" cy="419.1" r="6.25"/><circle cx="1329.1" cy="327.4" r="6.25"/>
<circle cx="1330.9" cy="343.1" r="6.25"/><circle cx="1332.7" cy="461.8" r="6.25"/><circle cx="1334.6" cy="388.9" r="6.25"/><circle cx="1336.4" cy="470.7" r="6.25"/><circle cx="1338.3" cy="375.4" r="6.25"/><circle cx="1340.1" cy="364.3" r="6.25"/><circle cx="1342.0" cy="454.0" r="6.25"/><circle cx="1343.8" cy="400.6" r="6.25"/>
<circle cx="1345.7" cy="429.0" r="6.25"/><circle cx="1347.5" cy="504.4" r="6.25"/><circle cx="1349.4" cy="413.7" r="6.25"/><circle cx="1351.2" cy="392.5" r="6.25"/><circle cx="1353.1" cy="460.3" r="6.25"/><circle cx="1354.9" cy="453.7" r="6.25"/><circle cx="1356.8" cy="482.1" r="6.25"/><circle cx="1358.6" cy="525.1" r="6.25"/>
<circle cx="1360.4" cy="362.9" r="6.25"/><circle cx="1362.3" cy="439.3" r="6.25"/><circle cx="1364.1" cy="518.8" r="6.25"/><circle cx="1366.0" cy="480.1" r="6.25"/><circle cx="1367.8" cy="414.5" r="6.25"/><circle cx="1369.7" cy="506.3" r="6.25"/><circle cx="1371.5" cy="540.2" r="6.25"/><circle cx="1373.4" cy="451.3" r="6.25"/>
<circle cx="1375.2" cy="583.1" r="6.25"/><circle cx="1377.1" cy="497.4" r="6.25"/><circle cx="1378.9" cy="455.8" r="6.25"/><circle cx="1380.8" cy="418.1" r="6.25"/><circle cx="1382.6" cy="490.0" r="6.25"/><circle cx="1384.5" cy="531.5" r="6.25"/><circle cx="1386.3" cy="442.0" r="6.25"/><circle cx="1388.1" cy="474.3" r="6.25"/>
<circle cx="1390.0" cy="500.4" r="6.25"/><circle cx="1391.8" cy="436.2" r="6.25"/><circle cx="1393.7" cy="526.8" r="6.25"/><circle cx="1395.5" cy="426.3" r="6.25"/><circle cx="1397.4" cy="333.5" r="6.25"/><circle cx="1399.2" cy="490.5" r="6.25"/><circle cx="1401.1" cy="477.4" r="6.25"/><circle cx="1402.9" cy="449.7" r="6.25"/>
<circle cx="1404.8" cy="459.1" r="6.25"/><circle cx="1406.6" cy="461.2" r="6.25"/><circle cx="1408.5" cy="517.9" r="6.25"/><circle cx="1410.3" cy="529.7" r="6.25"/><circle cx="1412.2" cy="659.1" r="6.25"/><circle cx="1414.0" cy="592.7" r="6.25"/><circle cx="1415.8" cy="618.7" r="6.25"/><circle cx="1417.7" cy="465.3" r="6.25"/>
<circle cx="1419.5" cy="337.7" r="6.25"/><circle cx="1421.4" cy="451.9" r="6.25"/><circle cx="1423.2" cy="460.0" r="6.25"/><circle cx="1425.1" cy="442.9" r="6.25"/><circle cx="1426.9" cy="472.5" r="6.25"/><circle cx="1428.8" cy="421.3" r="6.25"/><circle cx="1430.6" cy="492.0" r="6.25"/><circle cx="1432.5" cy="525.6" r="6.25"/>
<circle cx="1434.3" cy="442.5" r="6.25"/><circle cx="1436.2" cy="515.7" r="6.25"/><circle cx="1438.0" cy="526.8" r="6.25"/><circle cx="1439.9" cy="470.7" r="6.25"/><circle cx="1441.7" cy="492.0" r="6.25"/><circle cx="1443.5" cy="495.0" r="6.25"/><circle cx="1445.4" cy="474.9" r="6.25"/><circle cx="1447.2" cy="418.2" r="6.25"/>
<circle cx="1449.1" cy="384.1" r="6.25"/><circle cx="1450.9" cy="398.5" r="6.25"/><circle cx="1452.8" cy="462.3" r="6.25"/><circle cx="1454.6" cy="485.1" r="6.25"/><circle cx="1456.5" cy="557.4" r="6.25"/><circle cx="1458.3" cy="475.6" r="6.25"/><circle cx="1460.2" cy="494.1" r="6.25"/><circle cx="1462.0" cy="444.7" r="6.25"/>
<circle cx="1463.9" cy="536.7" r="6.25"/><circle cx="1465.7" cy="453.7" r="6.25"/><circle cx="1467.6" cy="429.4" r="6.25"/><circle cx="1469.4" cy="563.4" r="6.25"/><circle cx="1471.2" cy="554.9" r="6.25"/><circle cx="1473.1" cy="512.1" r="6.25"/><circle cx="1474.9" cy="442.0" r="6.25"/><circle cx="1476.8" cy="445.6" r="6.25"/>
<circle cx="1478.6" cy="400.6" r="6.25"/><circle cx="1480.5" cy="494.7" r="6.25"/><circle cx="1482.3" cy="341.3" r="6.25"/><circle cx="1484.2" cy="394.3" r="6.25"/><circle cx="1486.0" cy="505.5" r="6.25"/><circle cx="1487.9" cy="554.4" r="6.25"/><circle cx="1489.7" cy="450.1" r="6.25"/><circle cx="1491.6" cy="415.0" r="6.25"/>
<circle cx="1493.4" cy="504.9" r="6.25"/><circle cx="1495.3" cy="439.8" r="6.25"/><circle cx="1497.1" cy="513.9" r="6.25"/><circle cx="1498.9" cy="500.8" r="6.25"/><circle cx="1500.8" cy="584.6" r="6.25"/><circle cx="1502.6" cy="477.0" r="6.25"/><circle cx="1504.5" cy="473.8" r="6.25"/><circle cx="1506.3" cy="358.7" r="6.25"/>
<circle cx="1508.2" cy="448.6" r="6.25"/><circle cx="1510.0" cy="369.5" r="6.25"/><circle cx="1511.9" cy="393.4" r="6.25"/><circle cx="1513.7" cy="398.5" r="6.25"/><circle cx="1515.6" cy="378.1" r="6.25"/><circle cx="1517.4" cy="440.2" r="6.25"/><circle cx="1519.3" cy="246.7" r="6.25"/><circle cx="1521.1" cy="363.7" r="6.25"/>
<circle cx="1523.0" cy="433.9" r="6.25"/><circle cx="1524.8" cy="471.3" r="6.25"/><circle cx="1526.6" cy="415.0" r="6.25"/><circle cx="1528.5" cy="443.2" r="6.25"/><circle cx="1530.3" cy="348.8" r="6.25"/><circle cx="1532.2" cy="496.3" r="6.25"/><circle cx="1534.0" cy="340.4" r="6.25"/><circle cx="1535.9" cy="412.8" r="6.25"/>
<circle cx="1537.7" cy="259.1" r="6.25"/><circle cx="1539.6" cy="455.8" r="6.25"/><circle cx="1541.4" cy="455.6" r="6.25"/><circle cx="1543.3" cy="455.5" r="6.25"/><circle cx="1545.1" cy="437.8" r="6.25"/><circle cx="1547.0" cy="351.2" r="6.25"/><circle cx="1548.8" cy="447.0" r="6.25"/><circle cx="1550.7" cy="355.7" r="6.25"/>
<circle cx="1552.5" cy="383.0" r="6.25"/><circle cx="1554.3" cy="391.6" r="6.25"/><circle cx="1556.2" cy="508.9" r="6.25"/><circle cx="1558.0" cy="429.4" r="6.25"/><circle cx="1559.9" cy="458.7" r="6.25"/><circle cx="1561.7" cy="459.1" r="6.25"/><circle cx="1563.6" cy="412.3" r="6.25"/><circle cx="1565.4" cy="493.6" r="6.25"/>
<circle cx="1567.3" cy="410.5" r="6.25"/><circle cx="1569.1" cy="380.8" r="6.25"/><circle cx="1571.0" cy="402.4" r="6.25"/><circle cx="1572.8" cy="451.0" r="6.25"/><circle cx="1574.7" cy="455.5" r="6.25"/><circle cx="1576.5" cy="443.4" r="6.25"/><circle cx="1578.4" cy="420.0" r="6.25"/><circle cx="1580.2" cy="472.5" r="6.25"/>
<circle cx="1582.0" cy="364.3" r="6.25"/><circle cx="1583.9" cy="424.0" r="6.25"/><circle cx="1585.7" cy="526.5" r="6.25"/><circle cx="1587.6" cy="509.9" r="6.25"/><circle cx="1589.4" cy="421.7" r="6.25"/><circle cx="1591.3" cy="437.5" r="6.25"/><circle cx="1593.1" cy="503.1" r="6.25"/><circle cx="1595.0" cy="420.8" r="6.25"/>
<circle cx="1596.8" cy="474.3" r="6.25"/><circle cx="1598.7" cy="484.6" r="6.25"/><circle cx="1602.4" cy="429.7" r="6.25"/><circle cx="1604.2" cy="473.3" r="6.25"/><circle cx="1606.0" cy="466.6" r="6.25"/><circle cx="1607.9" cy="610.5" r="6.25"/><circle cx="1609.7" cy="534.2" r="6.25"/><circle cx="1611.6" cy="474.0" r="6.25"/>
<circle cx="1613.4" cy="602.0" r="6.25"/><circle cx="1617.1" cy="522.9" r="6.25"/><circle cx="1619.0" cy="531.9" r="6.25"/><circle cx="1620.8" cy="422.2" r="6.25"/><circle cx="1622.7" cy="517.1" r="6.25"/><circle cx="1624.5" cy="490.2" r="6.25"/><circle cx="1626.4" cy="406.0" r="6.25"/><circle cx="1628.2" cy="348.5" r="6.25"/>
<circle cx="1630.1" cy="460.0" r="6.25"/><circle cx="1631.9" cy="444.7" r="6.25"/><circle cx="1633.7" cy="456.4" r="6.25"/><circle cx="1635.6" cy="404.2" r="6.25"/><circle cx="1637.4" cy="297.4" r="6.25"/><circle cx="1639.3" cy="343.6" r="6.25"/><circle cx="1641.1" cy="441.1" r="6.25"/><circle cx="1643.0" cy="376.9" r="6.25"/>
<circle cx="1644.8" cy="564.8" r="6.25"/><circle cx="1646.7" cy="542.7" r="6.25"/><circle cx="1648.5" cy="462.7" r="6.25"/><circle cx="1650.4" cy="418.6" r="6.25"/><circle cx="1652.2" cy="467.1" r="6.25"/><circle cx="1654.1" cy="564.3" r="6.25"/><circle cx="1655.9" cy="506.7" r="6.25"/><circle cx="1657.8" cy="490.0" r="6.25"/>
<circle cx="1659.6" cy="467.7" r="6.25"/><circle cx="1661.4" cy="377.6" r="6.25"/><circle cx="1663.3" cy="417.3" r="6.25"/><circle cx="1665.1" cy="379.6" r="6.25"/><circle cx="1667.0" cy="309.8" r="6.25"/><circle cx="1668.8" cy="390.7" r="6.25"/><circle cx="1670.7" cy="458.5" r="6.25"/><circle cx="1672.5" cy="404.2" r="6.25"/>
<circle cx="1674.4" cy="477.6" r="6.25"/><circle cx="1676.2" cy="427.2" r="6.25"/><circle cx="1678.1" cy="390.4" r="6.25"/><circle cx="1679.9" cy="513.0" r="6.25"/><circle cx="1681.8" cy="454.6" r="6.25"/><circle cx="1683.6" cy="435.7" r="6.25"/><circle cx="1685.5" cy="333.7" r="6.25"/><circle cx="1687.3" cy="386.2" r="6.25"/>
<circle cx="1689.1" cy="331.4" r="6.25"/><circle cx="1691.0" cy="371.8" r="6.25"/><circle cx="1692.8" cy="354.2" r="6.25"/><circle cx="1694.7" cy="484.6" r="6.25"/><circle cx="1696.5" cy="400.1" r="6.25"/><circle cx="1698.4" cy="508.5" r="6.25"/><circle cx="1700.2" cy="383.5" r="6.25"/><circle cx="1702.1" cy="535.1" r="6.25"/>
<circle cx="1703.9" cy="500.1" r="6.25"/><circle cx="1707.6" cy="450.4" r="6.25"/><circle cx="1709.5" cy="489.1" r="6.25"/><circle cx="1711.3" cy="528.8" r="6.25"/><circle cx="1713.2" cy="541.8" r="6.25"/><circle cx="1715.0" cy="601.5" r="6.25"/><circle cx="1716.8" cy="540.5" r="6.25"/><circle cx="1718.7" cy="532.8" r="6.25"/>
<circle cx="1720.5" cy="474.9" r="6.25"/><circle cx="1722.4" cy="512.6" r="6.25"/><circle cx="1724.2" cy="517.9" r="6.25"/><circle cx="1726.1" cy="479.4" r="6.25"/><circle cx="1727.9" cy="495.6" r="6.25"/><circle cx="1729.8" cy="573.2" r="6.25"/><circle cx="1731.6" cy="513.9" r="6.25"/><circle cx="1733.5" cy="589.1" r="6.25"/>
<circle cx="1735.3" cy="674.6" r="6.25"/><circle cx="1737.2" cy="591.8" r="6.25"/><circle cx="1739.0" cy="582.2" r="6.25"/><circle cx="1740.9" cy="557.6" r="6.25"/><circle cx="1742.7" cy="577.7" r="6.25"/><circle cx="1744.5" cy="587.1" r="6.25"/><circle cx="1746.4" cy="602.0" r="6.25"/><circle cx="1748.2" cy="569.6" r="6.25"/>
<circle cx="1750.1" cy="553.5" r="6.25"/><circle cx="1751.9" cy="556.2" r="6.25"/><circle cx="1753.8" cy="578.3" r="6.25"/><circle cx="1755.6" cy="465.9" r="6.25"/><circle cx="1757.5" cy="487.8" r="6.25"/><circle cx="1759.3" cy="484.2" r="6.25"/><circle cx="1761.2" cy="496.5" r="6.25"/><circle cx="1763.0" cy="438.4" r="6.25"/>
<circle cx="1764.9" cy="486.9" r="6.25"/><circle cx="1766.7" cy="474.3" r="6.25"/><circle cx="1768.6" cy="450.1" r="6.25"/><circle cx="1770.4" cy="463.9" r="6.25"/><circle cx="1772.2" cy="460.5" r="6.25"/><circle cx="1774.1" cy="386.8" r="6.25"/><circle cx="1775.9" cy="475.8" r="6.25"/><circle cx="1777.8" cy="501.7" r="6.25"/>
<circle cx="1779.6" cy="468.9" r="6.25"/><circle cx="1781.5" cy="419.5" r="6.25"/><circle cx="1783.3" cy="490.2" r="6.25"/><circle cx="1785.2" cy="458.2" r="6.25"/><circle cx="1787.0" cy="415.0" r="6.25"/><circle cx="1788.9" cy="540.0" r="6.25"/><circle cx="1790.7" cy="540.0" r="6.25"/><circle cx="1792.6" cy="428.5" r="6.25"/>
<circle cx="1794.4" cy="351.7" r="6.25"/><circle cx="1796.3" cy="385.9" r="6.25"/><circle cx="1798.1" cy="452.2" r="6.25"/><circle cx="1799.9" cy="376.3" r="6.25"/><circle cx="1801.8" cy="435.7" r="6.25"/><circle cx="1803.6" cy="442.0" r="6.25"/><circle cx="1805.5" cy="427.6" r="6.25"/><circle cx="1807.3" cy="443.8" r="6.25"/>
<circle cx="1809.2" cy="479.7" r="6.25"/><circle cx="1811.0" cy="485.1" r="6.25"/><circle cx="1812.9" cy="460.9" r="6.25"/><circle cx="1814.7" cy="434.8" r="6.25"/><circle cx="1816.6" cy="405.1" r="6.25"/><circle cx="1818.4" cy="443.4" r="6.25"/><circle cx="1820.3" cy="405.1" r="6.25"/><circle cx="1822.1" cy="422.2" r="6.25"/>
<circle cx="1824.0" cy="467.7" r="6.25"/><circle cx="1825.8" cy="482.1" r="6.25"/><circle cx="1827.6" cy="372.2" r="6.25"/><circle cx="1829.5" cy="581.9" r="6.25"/><circle cx="1831.3" cy="492.3" r="6.25"/><circle cx="1833.2" cy="536.0" r="6.25"/><circle cx="1835.0" cy="491.4" r="6.25"/><circle cx="1836.9" cy="472.5" r="6.25"/>
<circle cx="1838.7" cy="561.2" r="6.25"/><circle cx="1840.6" cy="509.8" r="6.25"/><circle cx="1842.4" cy="509.9" r="6.25"/><circle cx="1844.3" cy="408.3" r="6.25"/><circle cx="1846.1" cy="351.5" r="6.25"/><circle cx="1848.0" cy="379.0" r="6.25"/><circle cx="1849.8" cy="412.3" r="6.25"/><circle cx="1851.7" cy="362.0" r="6.25"/>

</g>
<rect class="f" x="226.0" y="206.0" width="1657.7" height="637.9"/>
<text class="b" font-size="43.0" text-anchor="end" transform="translate(190.20,281.5) scale(0.972,1.045)">10</text>
<text class="b" font-size="43.0" text-anchor="end" transform="translate(190.20,396.5) scale(0.972,1.045)">0</text>
<text class="b" font-size="43.0" text-anchor="end" transform="translate(190.20,511.5) scale(0.972,1.045)">10</text>
<rect x="120.8" y="498.4" width="21.1" height="4.9"/>
<text class="b" font-size="43.0" text-anchor="end" transform="translate(190.20,626.5) scale(0.972,1.045)">20</text>
<rect x="120.8" y="613.4" width="21.1" height="4.9"/>
<text class="b" font-size="43.0" text-anchor="end" transform="translate(190.20,741.5) scale(0.972,1.045)">30</text>
<rect x="120.8" y="728.4" width="21.1" height="4.9"/>
<text class="b" font-size="43.0" text-anchor="end" transform="translate(190.20,856.5) scale(0.972,1.045)">40</text>
<rect x="120.8" y="843.4" width="21.1" height="4.9"/>
<text class="b" font-size="43.0" text-anchor="end" transform="translate(269.62,911.2) scale(0.972,1.045)">0</text>
<text class="b" font-size="43.0" text-anchor="end" transform="translate(402.58,911.2) scale(0.972,1.045)">6</text>
<text class="b" font-size="43.0" text-anchor="end" transform="translate(547.16,911.2) scale(0.972,1.045)">12</text>
<text class="b" font-size="43.0" text-anchor="end" transform="translate(680.12,911.2) scale(0.972,1.045)">18</text>
<text class="b" font-size="43.0" text-anchor="end" transform="translate(813.08,911.2) scale(0.972,1.045)">24</text>
<text class="b" font-size="43.0" text-anchor="end" transform="translate(946.04,911.2) scale(0.972,1.045)">30</text>
<text class="b" font-size="43.0" text-anchor="end" transform="translate(1079.00,911.2) scale(0.972,1.045)">36</text>
<text class="b" font-size="43.0" text-anchor="end" transform="translate(1211.96,911.2) scale(0.972,1.045)">42</text>
<text class="b" font-size="43.0" text-anchor="end" transform="translate(1344.91,911.2) scale(0.972,1.045)">48</text>
<text class="b" font-size="43.0" text-anchor="end" transform="translate(1477.87,911.2) scale(0.972,1.045)">54</text>
<text class="b" font-size="43.0" text-anchor="end" transform="translate(1610.83,911.2) scale(0.972,1.045)">60</text>
<text class="b" font-size="43.0" text-anchor="end" transform="translate(1743.79,911.2) scale(0.972,1.045)">66</text>
<text class="b" font-size="43.0" text-anchor="end" transform="translate(1876.75,911.2) scale(0.972,1.045)">72</text>
<text font-size="43" transform="translate(90,621.94) rotate(-90) scale(0.9793,1.0)">East (mm)</text>
<path class="t" d="M258.0 1022.0v-19M258.0 1659.8v19M302.3 1022.0v-10M302.3 1659.8v10M346.6 1022.0v-10M346.6 1659.8v10M391.0 1022.0v-19M391.0 1659.8v19M435.3 1022.0v-10M435.3 1659.8v10M479.6 1022.0v-10M479.6 1659.8v10M523.9 1022.0v-19M523.9 1659.8v19M568.2 1022.0v-10M568.2 1659.8v10M612.6 1022.0v-10M612.6 1659.8v10M656.9 1022.0v-19M656.9 1659.8v19M701.2 1022.0v-10M701.2 1659.8v10M745.5 1022.0v-10M745.5 1659.8v10M789.8 1022.0v-19M789.8 1659.8v19M834.2 1022.0v-10M834.2 1659.8v10M878.5 1022.0v-10M878.5 1659.8v10M922.8 1022.0v-19M922.8 1659.8v19M967.1 1022.0v-10M967.1 1659.8v10M1011.4 1022.0v-10M1011.4 1659.8v10M1055.8 1022.0v-19M1055.8 1659.8v19M1100.1 1022.0v-10M1100.1 1659.8v10M1144.4 1022.0v-10M1144.4 1659.8v10M1188.7 1022.0v-19M1188.7 1659.8v19M1233.0 1022.0v-10M1233.0 1659.8v10M1277.3 1022.0v-10M1277.3 1659.8v10M1321.7 1022.0v-19M1321.7 1659.8v19M1366.0 1022.0v-10M1366.0 1659.8v10M1410.3 1022.0v-10M1410.3 1659.8v10M1454.6 1022.0v-19M1454.6 1659.8v19M1498.9 1022.0v-10M1498.9 1659.8v10M1543.3 1022.0v-10M1543.3 1659.8v10M1587.6 1022.0v-19M1587.6 1659.8v19M1631.9 1022.0v-10M1631.9 1659.8v10M1676.2 1022.0v-10M1676.2 1659.8v10M1720.5 1022.0v-19M1720.5 1659.8v19M1764.9 1022.0v-10M1764.9 1659.8v10M1809.2 1022.0v-10M1809.2 1659.8v10M1853.5 1022.0v-19M1853.5 1659.8v19M226.0 1053.5h-19M1883.7 1053.5h19M226.0 1159.1h-19M1883.7 1159.1h19M226.0 1264.7h-19M1883.7 1264.7h19M226.0 1370.3h-19M1883.7 1370.3h19M226.0 1475.9h-19M1883.7 1475.9h19M226.0 1581.4h-19M1883.7 1581.4h19"/>
<g class="d">
<circle cx="258.0" cy="1264.6" r="6.25"/><circle cx="261.7" cy="1298.6" r="6.25"/><circle cx="263.5" cy="1323.1" r="6.25"/><circle cx="265.4" cy="1356.5" r="6.25"/><circle cx="267.2" cy="1349.1" r="6.25"/><circle cx="269.1" cy="1377.6" r="6.25"/><circle cx="270.9" cy="1347.5" r="6.25"/><circle cx="272.8" cy="1318.2" r="6.25"/>
<circle cx="274.6" cy="1300.6" r="6.25"/><circle cx="276.5" cy="1254.4" r="6.25"/><circle cx="278.3" cy="1279.2" r="6.25"/><circle cx="280.2" cy="1299.3" r="6.25"/><circle cx="282.0" cy="1336.2" r="6.25"/><circle cx="283.9" cy="1217.2" r="6.25"/><circle cx="285.7" cy="1298.1" r="6.25"/><circle cx="287.5" cy="1217.2" r="6.25"/>
<circle cx="289.4" cy="1343.4" r="6.25"/><circle cx="291.2" cy="1231.0" r="6.25"/><circle cx="293.1" cy="1373.4" r="6.25"/><circle cx="294.9" cy="1322.2" r="6.25"/><circle cx="296.8" cy="1179.7" r="6.25"/><circle cx="298.6" cy="1305.3" r="6.25"/><circle cx="300.5" cy="1193.6" r="6.25"/><circle cx="302.3" cy="1109.8" r="6.25"/>
<circle cx="304.2" cy="1264.3" r="6.25"/><circle cx="306.0" cy="1199.9" r="6.25"/><circle cx="307.9" cy="1178.5" r="6.25"/><circle cx="309.7" cy="1190.5" r="6.25"/><circle cx="311.6" cy="1312.3" r="6.25"/><circle cx="313.4" cy="1190.5" r="6.25"/><circle cx="315.2" cy="1259.2" r="6.25"/><circle cx="317.1" cy="1159.4" r="6.25"/>
<circle cx="318.9" cy="1237.3" r="6.25"/><circle cx="320.8" cy="1155.5" r="6.25"/><circle cx="322.6" cy="1181.9" r="6.25"/><circle cx="324.5" cy="1327.6" r="6.25"/><circle cx="326.3" cy="1232.8" r="6.25"/><circle cx="328.2" cy="1299.0" r="6.25"/><circle cx="330.0" cy="1316.1" r="6.25"/><circle cx="331.9" cy="1282.2" r="6.25"/>
<circle cx="333.7" cy="1238.2" r="6.25"/><circle cx="335.6" cy="1274.7" r="6.25"/><circle cx="337.4" cy="1262.1" r="6.25"/><circle cx="339.3" cy="1250.2" r="6.25"/><circle cx="341.1" cy="1226.5" r="6.25"/><circle cx="342.9" cy="1261.2" r="6.25"/><circle cx="344.8" cy="1222.9" r="6.25"/><circle cx="346.6" cy="1178.5" r="6.25"/>
<circle cx="348.5" cy="1225.2" r="6.25"/><circle cx="350.3" cy="1188.7" r="6.25"/><circle cx="352.2" cy="1169.9" r="6.25"/><circle cx="354.0" cy="1178.0" r="6.25"/><circle cx="355.9" cy="1164.5" r="6.25"/><circle cx="357.7" cy="1168.1" r="6.25"/><circle cx="359.6" cy="1171.7" r="6.25"/><circle cx="361.4" cy="1152.8" r="6.25"/>
<circle cx="363.3" cy="1127.1" r="6.25"/><circle cx="365.1" cy="1213.9" r="6.25"/><circle cx="367.0" cy="1181.9" r="6.25"/><circle cx="368.8" cy="1072.4" r="6.25"/><circle cx="370.6" cy="1127.2" r="6.25"/><circle cx="372.5" cy="1356.2" r="6.25"/><circle cx="374.3" cy="1169.0" r="6.25"/><circle cx="376.2" cy="1156.4" r="6.25"/>
<circle cx="378.0" cy="1198.3" r="6.25"/><circle cx="379.9" cy="1069.2" r="6.25"/><circle cx="381.7" cy="1086.2" r="6.25"/><circle cx="383.6" cy="1256.7" r="6.25"/><circle cx="385.4" cy="1160.5" r="6.25"/><circle cx="387.3" cy="1216.6" r="6.25"/><circle cx="389.1" cy="1191.1" r="6.25"/><circle cx="391.0" cy="1283.5" r="6.25"/>
<circle cx="392.8" cy="1214.8" r="6.25"/><circle cx="394.7" cy="1271.5" r="6.25"/><circle cx="396.5" cy="1221.1" r="6.25"/><circle cx="398.3" cy="1227.8" r="6.25"/><circle cx="400.2" cy="1243.2" r="6.25"/><circle cx="402.0" cy="1252.2" r="6.25"/><circle cx="403.9" cy="1236.8" r="6.25"/><circle cx="405.7" cy="1168.2" r="6.25"/>
<circle cx="407.6" cy="1200.1" r="6.25"/><circle cx="409.4" cy="1261.2" r="6.25"/><circle cx="411.3" cy="1231.0" r="6.25"/><circle cx="413.1" cy="1194.1" r="6.25"/><circle cx="415.0" cy="1217.7" r="6.25"/><circle cx="416.8" cy="1132.5" r="6.25"/><circle cx="418.7" cy="1250.2" r="6.25"/><circle cx="420.5" cy="1182.1" r="6.25"/>
<circle cx="422.4" cy="1272.7" r="6.25"/><circle cx="424.2" cy="1174.9" r="6.25"/><circle cx="426.0" cy="1227.8" r="6.25"/><circle cx="427.9" cy="1273.3" r="6.25"/><circle cx="429.7" cy="1316.1" r="6.25"/><circle cx="431.6" cy="1239.1" r="6.25"/><circle cx="433.4" cy="1164.6" r="6.25"/><circle cx="435.3" cy="1221.6" r="6.25"/>
<circle cx="437.1" cy="1206.4" r="6.25"/><circle cx="439.0" cy="1250.4" r="6.25"/><circle cx="440.8" cy="1185.7" r="6.25"/><circle cx="442.7" cy="1234.6" r="6.25"/><circle cx="444.5" cy="1241.8" r="6.25"/><circle cx="446.4" cy="1279.2" r="6.25"/><circle cx="448.2" cy="1181.2" r="6.25"/><circle cx="450.1" cy="1236.8" r="6.25"/>
<circle cx="451.9" cy="1242.7" r="6.25"/><circle cx="453.7" cy="1221.1" r="6.25"/><circle cx="455.6" cy="1279.6" r="6.25"/><circle cx="457.4" cy="1213.9" r="6.25"/><circle cx="459.3" cy="1151.2" r="6.25"/><circle cx="461.1" cy="1170.8" r="6.25"/><circle cx="463.0" cy="1222.5" r="6.25"/><circle cx="464.8" cy="1246.3" r="6.25"/>
<circle cx="466.7" cy="1254.9" r="6.25"/><circle cx="468.5" cy="1245.4" r="6.25"/><circle cx="470.4" cy="1202.9" r="6.25"/><circle cx="472.2" cy="1248.4" r="6.25"/><circle cx="474.1" cy="1259.4" r="6.25"/><circle cx="475.9" cy="1217.2" r="6.25"/><circle cx="477.8" cy="1225.6" r="6.25"/><circle cx="479.6" cy="1269.7" r="6.25"/>
<circle cx="481.4" cy="1204.9" r="6.25"/><circle cx="483.3" cy="1219.9" r="6.25"/><circle cx="485.1" cy="1250.2" r="6.25"/><circle cx="487.0" cy="1264.3" r="6.25"/><circle cx="488.8" cy="1221.1" r="6.25"/><circle cx="490.7" cy="1268.8" r="6.25"/><circle cx="492.5" cy="1293.0" r="6.25"/><circle cx="494.4" cy="1254.7" r="6.25"/>
<circle cx="496.2" cy="1261.6" r="6.25"/><circle cx="498.1" cy="1269.1" r="6.25"/><circle cx="499.9" cy="1374.3" r="6.25"/><circle cx="501.8" cy="1267.0" r="6.25"/><circle cx="503.6" cy="1199.5" r="6.25"/><circle cx="505.5" cy="1297.2" r="6.25"/><circle cx="507.3" cy="1278.7" r="6.25"/><circle cx="509.1" cy="1236.9" r="6.25"/>
<circle cx="511.0" cy="1203.1" r="6.25"/><circle cx="512.8" cy="1343.7" r="6.25"/><circle cx="514.7" cy="1257.6" r="6.25"/><circle cx="516.5" cy="1406.3" r="6.25"/><circle cx="518.4" cy="1218.4" r="6.25"/><circle cx="520.2" cy="1228.3" r="6.25"/><circle cx="522.1" cy="1242.3" r="6.25"/><circle cx="523.9" cy="1199.9" r="6.25"/>
<circle cx="525.8" cy="1291.8" r="6.25"/><circle cx="527.6" cy="1230.5" r="6.25"/><circle cx="529.5" cy="1216.1" r="6.25"/><circle cx="531.3" cy="1260.3" r="6.25"/><circle cx="533.1" cy="1272.4" r="6.25"/><circle cx="535.0" cy="1250.8" r="6.25"/><circle cx="536.8" cy="1266.6" r="6.25"/><circle cx="538.7" cy="1252.2" r="6.25"/>
<circle cx="540.5" cy="1226.5" r="6.25"/><circle cx="542.4" cy="1220.7" r="6.25"/><circle cx="544.2" cy="1277.8" r="6.25"/><circle cx="546.1" cy="1180.3" r="6.25"/><circle cx="547.9" cy="1191.1" r="6.25"/><circle cx="549.8" cy="1221.5" r="6.25"/><circle cx="551.6" cy="1303.8" r="6.25"/><circle cx="553.5" cy="1279.6" r="6.25"/>
<circle cx="555.3" cy="1215.7" r="6.25"/><circle cx="559.0" cy="1274.7" r="6.25"/><circle cx="560.8" cy="1247.2" r="6.25"/><circle cx="562.7" cy="1225.1" r="6.25"/><circle cx="564.5" cy="1201.9" r="6.25"/><circle cx="566.4" cy="1250.8" r="6.25"/><circle cx="568.2" cy="1217.0" r="6.25"/><circle cx="570.1" cy="1327.7" r="6.25"/>
<circle cx="571.9" cy="1264.3" r="6.25"/><circle cx="573.8" cy="1248.4" r="6.25"/><circle cx="577.5" cy="1271.5" r="6.25"/><circle cx="579.3" cy="1249.0" r="6.25"/><circle cx="581.2" cy="1213.6" r="6.25"/><circle cx="583.0" cy="1290.3" r="6.25"/><circle cx="584.9" cy="1271.5" r="6.25"/><circle cx="586.7" cy="1151.0" r="6.25"/>
<circle cx="588.5" cy="1258.9" r="6.25"/><circle cx="590.4" cy="1292.5" r="6.25"/><circle cx="592.2" cy="1262.5" r="6.25"/><circle cx="594.1" cy="1277.2" r="6.25"/><circle cx="595.9" cy="1227.0" r="6.25"/><circle cx="597.8" cy="1295.7" r="6.25"/><circle cx="599.6" cy="1249.0" r="6.25"/><circle cx="601.5" cy="1244.5" r="6.25"/>
<circle cx="603.3" cy="1300.8" r="6.25"/><circle cx="610.7" cy="1286.0" r="6.25"/><circle cx="612.6" cy="1267.3" r="6.25"/><circle cx="614.4" cy="1247.7" r="6.25"/><circle cx="616.2" cy="1237.3" r="6.25"/><circle cx="618.1" cy="1323.4" r="6.25"/><circle cx="619.9" cy="1303.3" r="6.25"/><circle cx="621.8" cy="1200.4" r="6.25"/>
<circle cx="623.6" cy="1190.5" r="6.25"/><circle cx="625.5" cy="1115.4" r="6.25"/><circle cx="627.3" cy="1077.2" r="6.25"/><circle cx="629.2" cy="1198.6" r="6.25"/><circle cx="631.0" cy="1231.9" r="6.25"/><circle cx="632.9" cy="1054.4" r="6.25"/><circle cx="634.7" cy="1052.4" r="6.25"/><circle cx="636.6" cy="1190.0" r="6.25"/>
<circle cx="638.4" cy="1162.7" r="6.25"/><circle cx="640.3" cy="1223.8" r="6.25"/><circle cx="642.1" cy="1178.3" r="6.25"/><circle cx="643.9" cy="1230.1" r="6.25"/><circle cx="645.8" cy="1165.9" r="6.25"/><circle cx="647.6" cy="1241.8" r="6.25"/><circle cx="649.5" cy="1130.3" r="6.25"/><circle cx="651.3" cy="1267.5" r="6.25"/>
<circle cx="653.2" cy="1279.6" r="6.25"/><circle cx="656.9" cy="1224.3" r="6.25"/><circle cx="658.7" cy="1253.8" r="6.25"/><circle cx="662.4" cy="1279.0" r="6.25"/><circle cx="664.3" cy="1229.7" r="6.25"/><circle cx="666.1" cy="1269.7" r="6.25"/><circle cx="668.0" cy="1235.5" r="6.25"/><circle cx="669.8" cy="1260.3" r="6.25"/>
<circle cx="671.6" cy="1275.1" r="6.25"/><circle cx="673.5" cy="1221.6" r="6.25"/><circle cx="675.3" cy="1143.1" r="6.25"/><circle cx="677.2" cy="1252.2" r="6.25"/><circle cx="679.0" cy="1210.7" r="6.25"/><circle cx="680.9" cy="1279.6" r="6.25"/><circle cx="682.7" cy="1249.0" r="6.25"/><circle cx="684.6" cy="1238.6" r="6.25"/>
<circle cx="686.4" cy="1231.0" r="6.25"/><circle cx="690.1" cy="1338.5" r="6.25"/><circle cx="692.0" cy="1239.1" r="6.25"/><circle cx="693.8" cy="1253.8" r="6.25"/><circle cx="695.7" cy="1270.2" r="6.25"/><circle cx="697.5" cy="1326.3" r="6.25"/><circle cx="699.3" cy="1249.9" r="6.25"/><circle cx="701.2" cy="1197.7" r="6.25"/>
<circle cx="703.0" cy="1257.4" r="6.25"/><circle cx="704.9" cy="1190.0" r="6.25"/><circle cx="706.7" cy="1273.8" r="6.25"/><circle cx="708.6" cy="1262.8" r="6.25"/><circle cx="710.4" cy="1290.0" r="6.25"/><circle cx="712.3" cy="1404.0" r="6.25"/><circle cx="714.1" cy="1288.5" r="6.25"/><circle cx="716.0" cy="1305.3" r="6.25"/>
<circle cx="717.8" cy="1317.0" r="6.25"/><circle cx="719.7" cy="1236.8" r="6.25"/><circle cx="721.5" cy="1270.0" r="6.25"/><circle cx="723.4" cy="1292.7" r="6.25"/><circle cx="725.2" cy="1288.4" r="6.25"/><circle cx="727.0" cy="1284.0" r="6.25"/><circle cx="728.9" cy="1231.0" r="6.25"/><circle cx="730.7" cy="1269.7" r="6.25"/>
<circle cx="732.6" cy="1256.2" r="6.25"/><circle cx="734.4" cy="1241.2" r="6.25"/><circle cx="738.1" cy="1316.8" r="6.25"/><circle cx="740.0" cy="1302.6" r="6.25"/><circle cx="741.8" cy="1261.2" r="6.25"/><circle cx="743.7" cy="1322.7" r="6.25"/><circle cx="745.5" cy="1315.9" r="6.25"/><circle cx="749.2" cy="1352.0" r="6.25"/>
<circle cx="751.1" cy="1404.9" r="6.25"/><circle cx="752.9" cy="1320.4" r="6.25"/><circle cx="754.7" cy="1294.8" r="6.25"/><circle cx="756.6" cy="1385.1" r="6.25"/><circle cx="758.4" cy="1288.0" r="6.25"/><circle cx="762.1" cy="1254.4" r="6.25"/><circle cx="764.0" cy="1250.8" r="6.25"/><circle cx="765.8" cy="1297.5" r="6.25"/>
<circle cx="767.7" cy="1278.3" r="6.25"/><circle cx="769.5" cy="1208.0" r="6.25"/><circle cx="771.4" cy="1192.3" r="6.25"/><circle cx="773.2" cy="1238.6" r="6.25"/><circle cx="775.1" cy="1250.8" r="6.25"/><circle cx="776.9" cy="1288.2" r="6.25"/><circle cx="778.8" cy="1311.6" r="6.25"/><circle cx="780.6" cy="1181.9" r="6.25"/>
<circle cx="782.4" cy="1420.7" r="6.25"/><circle cx="784.3" cy="1365.0" r="6.25"/><circle cx="786.1" cy="1442.3" r="6.25"/><circle cx="788.0" cy="1647.4" r="6.25"/><circle cx="789.8" cy="1199.5" r="6.25"/><circle cx="791.7" cy="1263.9" r="6.25"/><circle cx="793.5" cy="1203.1" r="6.25"/><circle cx="795.4" cy="1348.4" r="6.25"/>
<circle cx="797.2" cy="1221.1" r="6.25"/><circle cx="800.9" cy="1175.8" r="6.25"/><circle cx="802.8" cy="1224.7" r="6.25"/><circle cx="804.6" cy="1265.2" r="6.25"/><circle cx="806.5" cy="1134.6" r="6.25"/><circle cx="808.3" cy="1207.6" r="6.25"/><circle cx="810.1" cy="1216.6" r="6.25"/><circle cx="812.0" cy="1242.3" r="6.25"/>
<circle cx="815.7" cy="1265.7" r="6.25"/><circle cx="817.5" cy="1303.8" r="6.25"/><circle cx="819.4" cy="1332.1" r="6.25"/><circle cx="821.2" cy="1243.0" r="6.25"/><circle cx="823.1" cy="1206.4" r="6.25"/><circle cx="824.9" cy="1301.5" r="6.25"/><circle cx="826.8" cy="1373.1" r="6.25"/><circle cx="828.6" cy="1217.2" r="6.25"/>
<circle cx="830.5" cy="1333.9" r="6.25"/><circle cx="832.3" cy="1225.6" r="6.25"/><circle cx="834.2" cy="1149.7" r="6.25"/><circle cx="836.0" cy="1208.2" r="6.25"/><circle cx="837.8" cy="1235.5" r="6.25"/><circle cx="839.7" cy="1098.5" r="6.25"/><circle cx="841.5" cy="1125.1" r="6.25"/><circle cx="843.4" cy="1072.2" r="6.25"/>
<circle cx="845.2" cy="1158.7" r="6.25"/><circle cx="847.1" cy="1081.7" r="6.25"/><circle cx="848.9" cy="1436.0" r="6.25"/><circle cx="850.8" cy="1388.0" r="6.25"/><circle cx="852.6" cy="1406.7" r="6.25"/><circle cx="854.5" cy="1305.6" r="6.25"/><circle cx="856.3" cy="1276.9" r="6.25"/><circle cx="858.2" cy="1276.7" r="6.25"/>
<circle cx="860.0" cy="1276.5" r="6.25"/><circle cx="861.9" cy="1207.1" r="6.25"/><circle cx="863.7" cy="1263.0" r="6.25"/><circle cx="865.5" cy="1223.8" r="6.25"/><circle cx="867.4" cy="1266.1" r="6.25"/><circle cx="869.2" cy="1290.0" r="6.25"/><circle cx="871.1" cy="1282.2" r="6.25"/><circle cx="872.9" cy="1296.3" r="6.25"/>
<circle cx="874.8" cy="1304.4" r="6.25"/><circle cx="876.6" cy="1276.0" r="6.25"/><circle cx="878.5" cy="1250.8" r="6.25"/><circle cx="880.3" cy="1234.6" r="6.25"/><circle cx="882.2" cy="1222.5" r="6.25"/><circle cx="884.0" cy="1200.1" r="6.25"/><circle cx="885.9" cy="1211.2" r="6.25"/><circle cx="887.7" cy="1244.5" r="6.25"/>
<circle cx="889.6" cy="1259.2" r="6.25"/><circle cx="891.4" cy="1236.4" r="6.25"/><circle cx="893.2" cy="1195.0" r="6.25"/><circle cx="895.1" cy="1170.8" r="6.25"/><circle cx="896.9" cy="1299.9" r="6.25"/><circle cx="898.8" cy="1291.2" r="6.25"/><circle cx="900.6" cy="1220.7" r="6.25"/><circle cx="902.5" cy="1286.2" r="6.25"/>
<circle cx="904.3" cy="1281.3" r="6.25"/><circle cx="906.2" cy="1316.8" r="6.25"/><circle cx="908.0" cy="1311.9" r="6.25"/><circle cx="909.9" cy="1153.0" r="6.25"/><circle cx="911.7" cy="1034.5" r="6.25"/><circle cx="913.6" cy="1086.8" r="6.25"/><circle cx="915.4" cy="1107.8" r="6.25"/><circle cx="917.3" cy="1160.0" r="6.25"/>
<circle cx="919.1" cy="1189.6" r="6.25"/><circle cx="920.9" cy="1104.2" r="6.25"/><circle cx="922.8" cy="1174.9" r="6.25"/><circle cx="924.6" cy="1184.8" r="6.25"/><circle cx="926.5" cy="1214.5" r="6.25"/><circle cx="928.3" cy="1277.4" r="6.25"/><circle cx="930.2" cy="1322.2" r="6.25"/><circle cx="932.0" cy="1270.6" r="6.25"/>
<circle cx="933.9" cy="1351.1" r="6.25"/><circle cx="935.7" cy="1238.2" r="6.25"/><circle cx="937.6" cy="1308.9" r="6.25"/><circle cx="939.4" cy="1331.2" r="6.25"/><circle cx="941.3" cy="1215.7" r="6.25"/><circle cx="943.1" cy="1280.1" r="6.25"/><circle cx="945.0" cy="1303.8" r="6.25"/><circle cx="946.8" cy="1294.3" r="6.25"/>
<circle cx="948.6" cy="1313.4" r="6.25"/><circle cx="950.5" cy="1318.2" r="6.25"/><circle cx="952.3" cy="1339.8" r="6.25"/><circle cx="954.2" cy="1238.7" r="6.25"/><circle cx="956.0" cy="1302.0" r="6.25"/><circle cx="957.9" cy="1307.4" r="6.25"/><circle cx="959.7" cy="1342.1" r="6.25"/><circle cx="961.6" cy="1357.4" r="6.25"/>
<circle cx="963.4" cy="1326.3" r="6.25"/><circle cx="965.3" cy="1195.4" r="6.25"/><circle cx="967.1" cy="1214.3" r="6.25"/><circle cx="969.0" cy="1187.8" r="6.25"/><circle cx="970.8" cy="1270.9" r="6.25"/><circle cx="972.7" cy="1263.7" r="6.25"/><circle cx="974.5" cy="1222.9" r="6.25"/><circle cx="976.3" cy="1191.8" r="6.25"/>
<circle cx="978.2" cy="1286.7" r="6.25"/><circle cx="980.0" cy="1267.0" r="6.25"/><circle cx="981.9" cy="1228.8" r="6.25"/><circle cx="983.7" cy="1265.2" r="6.25"/><circle cx="985.6" cy="1317.7" r="6.25"/><circle cx="987.4" cy="1345.5" r="6.25"/><circle cx="989.3" cy="1283.1" r="6.25"/><circle cx="991.1" cy="1242.3" r="6.25"/>
<circle cx="993.0" cy="1208.0" r="6.25"/><circle cx="994.8" cy="1255.6" r="6.25"/><circle cx="996.7" cy="1177.4" r="6.25"/><circle cx="998.5" cy="1183.7" r="6.25"/><circle cx="1000.4" cy="1189.3" r="6.25"/><circle cx="1002.2" cy="1240.0" r="6.25"/><circle cx="1004.0" cy="1293.9" r="6.25"/><circle cx="1005.9" cy="1241.4" r="6.25"/>
<circle cx="1007.7" cy="1267.9" r="6.25"/><circle cx="1009.6" cy="1239.1" r="6.25"/><circle cx="1011.4" cy="1270.6" r="6.25"/><circle cx="1013.3" cy="1199.4" r="6.25"/><circle cx="1015.1" cy="1277.2" r="6.25"/><circle cx="1017.0" cy="1287.1" r="6.25"/><circle cx="1018.8" cy="1301.1" r="6.25"/><circle cx="1020.7" cy="1304.7" r="6.25"/>
<circle cx="1022.5" cy="1285.3" r="6.25"/><circle cx="1024.4" cy="1215.2" r="6.25"/><circle cx="1026.2" cy="1254.4" r="6.25"/><circle cx="1028.1" cy="1333.0" r="6.25"/><circle cx="1029.9" cy="1213.9" r="6.25"/><circle cx="1031.7" cy="1218.1" r="6.25"/><circle cx="1033.6" cy="1351.5" r="6.25"/><circle cx="1035.4" cy="1270.9" r="6.25"/>
<circle cx="1037.3" cy="1283.1" r="6.25"/><circle cx="1039.1" cy="1215.7" r="6.25"/><circle cx="1041.0" cy="1259.2" r="6.25"/><circle cx="1042.8" cy="1297.2" r="6.25"/><circle cx="1044.7" cy="1234.6" r="6.25"/><circle cx="1046.5" cy="1359.9" r="6.25"/><circle cx="1048.4" cy="1211.8" r="6.25"/><circle cx="1050.2" cy="1253.5" r="6.25"/>
<circle cx="1052.1" cy="1237.3" r="6.25"/><circle cx="1053.9" cy="1305.6" r="6.25"/><circle cx="1055.8" cy="1197.2" r="6.25"/><circle cx="1057.6" cy="1256.5" r="6.25"/><circle cx="1059.4" cy="1200.4" r="6.25"/><circle cx="1061.3" cy="1219.3" r="6.25"/><circle cx="1063.1" cy="1263.4" r="6.25"/><circle cx="1065.0" cy="1290.3" r="6.25"/>
<circle cx="1066.8" cy="1218.1" r="6.25"/><circle cx="1068.7" cy="1198.1" r="6.25"/><circle cx="1070.5" cy="1191.1" r="6.25"/><circle cx="1072.4" cy="1252.6" r="6.25"/><circle cx="1074.2" cy="1313.2" r="6.25"/><circle cx="1076.1" cy="1328.6" r="6.25"/><circle cx="1077.9" cy="1300.2" r="6.25"/><circle cx="1079.8" cy="1305.1" r="6.25"/>
<circle cx="1081.6" cy="1246.3" r="6.25"/><circle cx="1083.4" cy="1321.8" r="6.25"/><circle cx="1085.3" cy="1200.1" r="6.25"/><circle cx="1087.1" cy="1210.9" r="6.25"/><circle cx="1089.0" cy="1250.8" r="6.25"/><circle cx="1090.8" cy="1264.3" r="6.25"/><circle cx="1092.7" cy="1270.2" r="6.25"/><circle cx="1094.5" cy="1323.6" r="6.25"/>
<circle cx="1096.4" cy="1200.1" r="6.25"/><circle cx="1098.2" cy="1212.1" r="6.25"/><circle cx="1100.1" cy="1331.2" r="6.25"/><circle cx="1101.9" cy="1278.3" r="6.25"/><circle cx="1103.8" cy="1369.1" r="6.25"/><circle cx="1105.6" cy="1341.1" r="6.25"/><circle cx="1107.5" cy="1213.9" r="6.25"/><circle cx="1109.3" cy="1281.0" r="6.25"/>
<circle cx="1111.1" cy="1296.3" r="6.25"/><circle cx="1113.0" cy="1281.0" r="6.25"/><circle cx="1114.8" cy="1335.7" r="6.25"/><circle cx="1116.7" cy="1263.7" r="6.25"/><circle cx="1118.5" cy="1256.2" r="6.25"/><circle cx="1120.4" cy="1342.1" r="6.25"/><circle cx="1122.2" cy="1241.8" r="6.25"/><circle cx="1124.1" cy="1254.4" r="6.25"/>
<circle cx="1125.9" cy="1326.7" r="6.25"/><circle cx="1127.8" cy="1221.1" r="6.25"/><circle cx="1129.6" cy="1292.7" r="6.25"/><circle cx="1131.5" cy="1245.9" r="6.25"/><circle cx="1133.3" cy="1209.1" r="6.25"/><circle cx="1135.2" cy="1204.9" r="6.25"/><circle cx="1137.0" cy="1279.6" r="6.25"/><circle cx="1138.8" cy="1227.9" r="6.25"/>
<circle cx="1140.7" cy="1263.4" r="6.25"/><circle cx="1142.5" cy="1330.3" r="6.25"/><circle cx="1144.4" cy="1197.2" r="6.25"/><circle cx="1146.2" cy="1306.2" r="6.25"/><circle cx="1148.1" cy="1144.7" r="6.25"/><circle cx="1149.9" cy="1293.0" r="6.25"/><circle cx="1151.8" cy="1098.3" r="6.25"/><circle cx="1153.6" cy="1310.5" r="6.25"/>
<circle cx="1155.5" cy="1308.0" r="6.25"/><circle cx="1157.3" cy="1330.3" r="6.25"/><circle cx="1159.2" cy="1272.7" r="6.25"/><circle cx="1161.0" cy="1393.4" r="6.25"/><circle cx="1162.9" cy="1428.8" r="6.25"/><circle cx="1164.7" cy="1322.3" r="6.25"/><circle cx="1166.5" cy="1222.9" r="6.25"/><circle cx="1168.4" cy="1271.1" r="6.25"/>
<circle cx="1170.2" cy="1200.1" r="6.25"/><circle cx="1172.1" cy="1164.8" r="6.25"/><circle cx="1173.9" cy="1214.5" r="6.25"/><circle cx="1175.8" cy="1193.6" r="6.25"/><circle cx="1177.6" cy="1301.1" r="6.25"/><circle cx="1179.5" cy="1214.8" r="6.25"/><circle cx="1181.3" cy="1195.9" r="6.25"/><circle cx="1183.2" cy="1266.4" r="6.25"/>
<circle cx="1185.0" cy="1189.6" r="6.25"/><circle cx="1186.9" cy="1244.5" r="6.25"/><circle cx="1188.7" cy="1338.9" r="6.25"/><circle cx="1190.6" cy="1275.1" r="6.25"/><circle cx="1192.4" cy="1375.8" r="6.25"/><circle cx="1194.2" cy="1281.3" r="6.25"/><circle cx="1196.1" cy="1249.0" r="6.25"/><circle cx="1197.9" cy="1298.1" r="6.25"/>
<circle cx="1199.8" cy="1268.4" r="6.25"/><circle cx="1201.6" cy="1250.4" r="6.25"/><circle cx="1203.5" cy="1392.5" r="6.25"/><circle cx="1205.3" cy="1323.2" r="6.25"/><circle cx="1207.2" cy="1302.0" r="6.25"/><circle cx="1209.0" cy="1408.1" r="6.25"/><circle cx="1210.9" cy="1374.5" r="6.25"/><circle cx="1212.7" cy="1313.2" r="6.25"/>
<circle cx="1214.6" cy="1331.7" r="6.25"/><circle cx="1216.4" cy="1352.9" r="6.25"/><circle cx="1218.3" cy="1248.1" r="6.25"/><circle cx="1220.1" cy="1224.2" r="6.25"/><circle cx="1221.9" cy="1262.8" r="6.25"/><circle cx="1223.8" cy="1286.2" r="6.25"/><circle cx="1225.6" cy="1335.7" r="6.25"/><circle cx="1227.5" cy="1262.8" r="6.25"/>
<circle cx="1229.3" cy="1240.9" r="6.25"/><circle cx="1231.2" cy="1310.7" r="6.25"/><circle cx="1233.0" cy="1279.6" r="6.25"/><circle cx="1234.9" cy="1283.5" r="6.25"/><circle cx="1236.7" cy="1300.2" r="6.25"/><circle cx="1238.6" cy="1273.8" r="6.25"/><circle cx="1240.4" cy="1385.1" r="6.25"/><circle cx="1242.3" cy="1210.0" r="6.25"/>
<circle cx="1244.1" cy="1294.3" r="6.25"/><circle cx="1246.0" cy="1288.2" r="6.25"/><circle cx="1247.8" cy="1279.2" r="6.25"/><circle cx="1249.6" cy="1164.5" r="6.25"/><circle cx="1251.5" cy="1231.9" r="6.25"/><circle cx="1253.3" cy="1295.7" r="6.25"/><circle cx="1255.2" cy="1281.3" r="6.25"/><circle cx="1257.0" cy="1263.9" r="6.25"/>
<circle cx="1258.9" cy="1245.7" r="6.25"/><circle cx="1260.7" cy="1220.2" r="6.25"/><circle cx="1262.6" cy="1213.4" r="6.25"/><circle cx="1264.4" cy="1230.6" r="6.25"/><circle cx="1266.3" cy="1193.8" r="6.25"/><circle cx="1268.1" cy="1260.7" r="6.25"/><circle cx="1270.0" cy="1276.3" r="6.25"/><circle cx="1271.8" cy="1293.6" r="6.25"/>
<circle cx="1273.7" cy="1310.7" r="6.25"/><circle cx="1275.5" cy="1379.4" r="6.25"/><circle cx="1277.3" cy="1255.3" r="6.25"/><circle cx="1279.2" cy="1290.3" r="6.25"/><circle cx="1281.0" cy="1309.8" r="6.25"/><circle cx="1282.9" cy="1186.6" r="6.25"/><circle cx="1284.7" cy="1251.3" r="6.25"/><circle cx="1286.6" cy="1317.3" r="6.25"/>
<circle cx="1288.4" cy="1303.8" r="6.25"/><circle cx="1290.3" cy="1277.2" r="6.25"/><circle cx="1292.1" cy="1278.3" r="6.25"/><circle cx="1294.0" cy="1249.0" r="6.25"/><circle cx="1295.8" cy="1342.5" r="6.25"/><circle cx="1297.7" cy="1295.2" r="6.25"/><circle cx="1299.5" cy="1190.5" r="6.25"/><circle cx="1301.4" cy="1208.5" r="6.25"/>
<circle cx="1303.2" cy="1246.8" r="6.25"/><circle cx="1305.0" cy="1291.8" r="6.25"/><circle cx="1306.9" cy="1363.5" r="6.25"/><circle cx="1308.7" cy="1251.7" r="6.25"/><circle cx="1310.6" cy="1345.2" r="6.25"/><circle cx="1312.4" cy="1348.8" r="6.25"/><circle cx="1314.3" cy="1247.5" r="6.25"/><circle cx="1316.1" cy="1262.5" r="6.25"/>
<circle cx="1318.0" cy="1217.0" r="6.25"/><circle cx="1319.8" cy="1256.7" r="6.25"/><circle cx="1321.7" cy="1303.3" r="6.25"/><circle cx="1323.5" cy="1285.8" r="6.25"/><circle cx="1325.4" cy="1299.0" r="6.25"/><circle cx="1327.2" cy="1289.4" r="6.25"/><circle cx="1329.1" cy="1331.3" r="6.25"/><circle cx="1330.9" cy="1349.3" r="6.25"/>
<circle cx="1332.7" cy="1250.8" r="6.25"/><circle cx="1334.6" cy="1260.1" r="6.25"/><circle cx="1336.4" cy="1254.8" r="6.25"/><circle cx="1338.3" cy="1249.5" r="6.25"/><circle cx="1340.1" cy="1207.1" r="6.25"/><circle cx="1342.0" cy="1290.0" r="6.25"/><circle cx="1343.8" cy="1219.0" r="6.25"/><circle cx="1345.7" cy="1301.1" r="6.25"/>
<circle cx="1347.5" cy="1302.6" r="6.25"/><circle cx="1349.4" cy="1229.2" r="6.25"/><circle cx="1351.2" cy="1225.6" r="6.25"/><circle cx="1353.1" cy="1160.9" r="6.25"/><circle cx="1354.9" cy="1174.4" r="6.25"/><circle cx="1356.8" cy="1172.6" r="6.25"/><circle cx="1358.6" cy="1376.7" r="6.25"/><circle cx="1360.4" cy="1332.2" r="6.25"/>
<circle cx="1362.3" cy="1165.4" r="6.25"/><circle cx="1364.1" cy="1348.2" r="6.25"/><circle cx="1366.0" cy="1194.5" r="6.25"/><circle cx="1367.8" cy="1293.9" r="6.25"/><circle cx="1369.7" cy="1255.3" r="6.25"/><circle cx="1371.5" cy="1260.1" r="6.25"/><circle cx="1373.4" cy="1295.2" r="6.25"/><circle cx="1375.2" cy="1446.4" r="6.25"/>
<circle cx="1377.1" cy="1313.2" r="6.25"/><circle cx="1378.9" cy="1366.8" r="6.25"/><circle cx="1380.8" cy="1253.5" r="6.25"/><circle cx="1382.6" cy="1276.5" r="6.25"/><circle cx="1384.5" cy="1284.4" r="6.25"/><circle cx="1386.3" cy="1205.8" r="6.25"/><circle cx="1388.1" cy="1295.7" r="6.25"/><circle cx="1390.0" cy="1284.9" r="6.25"/>
<circle cx="1391.8" cy="1195.6" r="6.25"/><circle cx="1393.7" cy="1233.7" r="6.25"/><circle cx="1395.5" cy="1292.5" r="6.25"/><circle cx="1397.4" cy="1313.7" r="6.25"/><circle cx="1399.2" cy="1308.8" r="6.25"/><circle cx="1401.1" cy="1303.8" r="6.25"/><circle cx="1402.9" cy="1282.2" r="6.25"/><circle cx="1404.8" cy="1251.1" r="6.25"/>
<circle cx="1406.6" cy="1312.8" r="6.25"/><circle cx="1408.5" cy="1352.4" r="6.25"/><circle cx="1410.3" cy="1360.8" r="6.25"/><circle cx="1412.2" cy="1286.7" r="6.25"/><circle cx="1414.0" cy="1332.6" r="6.25"/><circle cx="1415.8" cy="1333.9" r="6.25"/><circle cx="1417.7" cy="1284.4" r="6.25"/><circle cx="1419.5" cy="1375.2" r="6.25"/>
<circle cx="1421.4" cy="1306.5" r="6.25"/><circle cx="1423.2" cy="1194.1" r="6.25"/><circle cx="1425.1" cy="1300.6" r="6.25"/><circle cx="1426.9" cy="1258.5" r="6.25"/><circle cx="1428.8" cy="1172.7" r="6.25"/><circle cx="1430.6" cy="1315.5" r="6.25"/><circle cx="1432.5" cy="1184.2" r="6.25"/><circle cx="1434.3" cy="1159.4" r="6.25"/>
<circle cx="1436.2" cy="1083.5" r="6.25"/><circle cx="1438.0" cy="1241.8" r="6.25"/><circle cx="1439.9" cy="1178.9" r="6.25"/><circle cx="1441.7" cy="1098.8" r="6.25"/><circle cx="1443.5" cy="1086.6" r="6.25"/><circle cx="1445.4" cy="1199.0" r="6.25"/><circle cx="1447.2" cy="1183.3" r="6.25"/><circle cx="1449.1" cy="1165.4" r="6.25"/>
<circle cx="1450.9" cy="1128.1" r="6.25"/><circle cx="1452.8" cy="1271.8" r="6.25"/><circle cx="1454.6" cy="1310.1" r="6.25"/><circle cx="1456.5" cy="1198.6" r="6.25"/><circle cx="1458.3" cy="1313.2" r="6.25"/><circle cx="1460.2" cy="1258.3" r="6.25"/><circle cx="1462.0" cy="1340.7" r="6.25"/><circle cx="1463.9" cy="1304.7" r="6.25"/>
<circle cx="1465.7" cy="1308.0" r="6.25"/><circle cx="1467.6" cy="1158.5" r="6.25"/><circle cx="1469.4" cy="1324.1" r="6.25"/><circle cx="1471.2" cy="1286.4" r="6.25"/><circle cx="1473.1" cy="1279.6" r="6.25"/><circle cx="1474.9" cy="1345.2" r="6.25"/><circle cx="1476.8" cy="1339.8" r="6.25"/><circle cx="1478.6" cy="1289.4" r="6.25"/>
<circle cx="1480.5" cy="1295.2" r="6.25"/><circle cx="1482.3" cy="1311.0" r="6.25"/><circle cx="1484.2" cy="1266.6" r="6.25"/><circle cx="1486.0" cy="1195.0" r="6.25"/><circle cx="1487.9" cy="1116.8" r="6.25"/><circle cx="1489.7" cy="1254.4" r="6.25"/><circle cx="1491.6" cy="1194.5" r="6.25"/><circle cx="1493.4" cy="1302.9" r="6.25"/>
<circle cx="1495.3" cy="1210.3" r="6.25"/><circle cx="1497.1" cy="1254.4" r="6.25"/><circle cx="1498.9" cy="1154.2" r="6.25"/><circle cx="1500.8" cy="1274.2" r="6.25"/><circle cx="1502.6" cy="1315.5" r="6.25"/><circle cx="1504.5" cy="1129.4" r="6.25"/><circle cx="1506.3" cy="1261.6" r="6.25"/><circle cx="1508.2" cy="1208.0" r="6.25"/>
<circle cx="1510.0" cy="1124.0" r="6.25"/><circle cx="1511.9" cy="1234.6" r="6.25"/><circle cx="1513.7" cy="1213.0" r="6.25"/><circle cx="1515.6" cy="1280.1" r="6.25"/><circle cx="1517.4" cy="1308.3" r="6.25"/><circle cx="1519.3" cy="1201.3" r="6.25"/><circle cx="1521.1" cy="1211.2" r="6.25"/><circle cx="1523.0" cy="1250.8" r="6.25"/>
<circle cx="1524.8" cy="1275.6" r="6.25"/><circle cx="1526.6" cy="1272.4" r="6.25"/><circle cx="1528.5" cy="1240.0" r="6.25"/><circle cx="1530.3" cy="1246.6" r="6.25"/><circle cx="1532.2" cy="1221.1" r="6.25"/><circle cx="1534.0" cy="1215.2" r="6.25"/><circle cx="1535.9" cy="1178.9" r="6.25"/><circle cx="1537.7" cy="1263.4" r="6.25"/>
<circle cx="1539.6" cy="1177.1" r="6.25"/><circle cx="1541.4" cy="1240.3" r="6.25"/><circle cx="1543.3" cy="1275.1" r="6.25"/><circle cx="1545.1" cy="1196.3" r="6.25"/><circle cx="1547.0" cy="1216.6" r="6.25"/><circle cx="1548.8" cy="1263.4" r="6.25"/><circle cx="1550.7" cy="1306.5" r="6.25"/><circle cx="1552.5" cy="1105.1" r="6.25"/>
<circle cx="1554.3" cy="1308.3" r="6.25"/><circle cx="1556.2" cy="1219.3" r="6.25"/><circle cx="1558.0" cy="1209.8" r="6.25"/><circle cx="1559.9" cy="1226.0" r="6.25"/><circle cx="1561.7" cy="1073.8" r="6.25"/><circle cx="1563.6" cy="1184.2" r="6.25"/><circle cx="1565.4" cy="1161.2" r="6.25"/><circle cx="1567.3" cy="1178.9" r="6.25"/>
<circle cx="1569.1" cy="1240.3" r="6.25"/><circle cx="1571.0" cy="1245.0" r="6.25"/><circle cx="1572.8" cy="1253.5" r="6.25"/><circle cx="1574.7" cy="1114.7" r="6.25"/><circle cx="1576.5" cy="1236.8" r="6.25"/><circle cx="1578.4" cy="1342.0" r="6.25"/><circle cx="1580.2" cy="1175.3" r="6.25"/><circle cx="1582.0" cy="1228.8" r="6.25"/>
<circle cx="1583.9" cy="1157.3" r="6.25"/><circle cx="1585.7" cy="1272.0" r="6.25"/><circle cx="1587.6" cy="1181.5" r="6.25"/><circle cx="1589.4" cy="1220.2" r="6.25"/><circle cx="1591.3" cy="1245.0" r="6.25"/><circle cx="1593.1" cy="1191.4" r="6.25"/><circle cx="1595.0" cy="1299.0" r="6.25"/><circle cx="1596.8" cy="1279.2" r="6.25"/>
<circle cx="1598.7" cy="1176.2" r="6.25"/><circle cx="1600.5" cy="1194.1" r="6.25"/><circle cx="1602.4" cy="1231.0" r="6.25"/><circle cx="1604.2" cy="1289.8" r="6.25"/><circle cx="1606.0" cy="1256.2" r="6.25"/><circle cx="1607.9" cy="1239.1" r="6.25"/><circle cx="1609.7" cy="1332.6" r="6.25"/><circle cx="1611.6" cy="1341.6" r="6.25"/>
<circle cx="1613.4" cy="1409.0" r="6.25"/><circle cx="1615.3" cy="1237.3" r="6.25"/><circle cx="1617.1" cy="1274.2" r="6.25"/><circle cx="1619.0" cy="1255.6" r="6.25"/><circle cx="1620.8" cy="1246.8" r="6.25"/><circle cx="1622.7" cy="1293.9" r="6.25"/><circle cx="1624.5" cy="1213.4" r="6.25"/><circle cx="1626.4" cy="1246.8" r="6.25"/>
<circle cx="1628.2" cy="1306.5" r="6.25"/><circle cx="1630.1" cy="1295.2" r="6.25"/><circle cx="1631.9" cy="1255.6" r="6.25"/><circle cx="1633.7" cy="1313.2" r="6.25"/><circle cx="1635.6" cy="1260.7" r="6.25"/><circle cx="1637.4" cy="1400.0" r="6.25"/><circle cx="1639.3" cy="1338.5" r="6.25"/><circle cx="1641.1" cy="1191.4" r="6.25"/>
<circle cx="1643.0" cy="1225.6" r="6.25"/><circle cx="1644.8" cy="1293.6" r="6.25"/><circle cx="1646.7" cy="1282.2" r="6.25"/><circle cx="1648.5" cy="1289.1" r="6.25"/><circle cx="1650.4" cy="1277.4" r="6.25"/><circle cx="1652.2" cy="1283.5" r="6.25"/><circle cx="1654.1" cy="1238.7" r="6.25"/><circle cx="1655.9" cy="1218.8" r="6.25"/>
<circle cx="1657.8" cy="1247.5" r="6.25"/><circle cx="1659.6" cy="1332.2" r="6.25"/><circle cx="1661.4" cy="1268.8" r="6.25"/><circle cx="1663.3" cy="1204.9" r="6.25"/><circle cx="1665.1" cy="1192.3" r="6.25"/><circle cx="1667.0" cy="1210.3" r="6.25"/><circle cx="1668.8" cy="1240.5" r="6.25"/><circle cx="1670.7" cy="1215.4" r="6.25"/>
<circle cx="1672.5" cy="1280.1" r="6.25"/><circle cx="1674.4" cy="1254.4" r="6.25"/><circle cx="1676.2" cy="1226.5" r="6.25"/><circle cx="1678.1" cy="1191.4" r="6.25"/><circle cx="1679.9" cy="1186.9" r="6.25"/><circle cx="1681.8" cy="1200.1" r="6.25"/><circle cx="1683.6" cy="1221.1" r="6.25"/><circle cx="1685.5" cy="1092.2" r="6.25"/>
<circle cx="1687.3" cy="1231.5" r="6.25"/><circle cx="1689.1" cy="1134.4" r="6.25"/><circle cx="1691.0" cy="1184.6" r="6.25"/><circle cx="1692.8" cy="1205.8" r="6.25"/><circle cx="1694.7" cy="1127.2" r="6.25"/><circle cx="1696.5" cy="1131.2" r="6.25"/><circle cx="1698.4" cy="1160.9" r="6.25"/><circle cx="1700.2" cy="1155.1" r="6.25"/>
<circle cx="1702.1" cy="1185.7" r="6.25"/><circle cx="1703.9" cy="1196.8" r="6.25"/><circle cx="1705.8" cy="1269.7" r="6.25"/><circle cx="1707.6" cy="1164.5" r="6.25"/><circle cx="1709.5" cy="1260.1" r="6.25"/><circle cx="1711.3" cy="1192.3" r="6.25"/><circle cx="1713.2" cy="1199.2" r="6.25"/><circle cx="1715.0" cy="1205.5" r="6.25"/>
<circle cx="1716.8" cy="1290.7" r="6.25"/><circle cx="1718.7" cy="1210.3" r="6.25"/><circle cx="1720.5" cy="1306.5" r="6.25"/><circle cx="1722.4" cy="1238.6" r="6.25"/><circle cx="1724.2" cy="1125.1" r="6.25"/><circle cx="1726.1" cy="1214.3" r="6.25"/><circle cx="1727.9" cy="1219.7" r="6.25"/><circle cx="1729.8" cy="1283.1" r="6.25"/>
<circle cx="1731.6" cy="1305.6" r="6.25"/><circle cx="1733.5" cy="1284.0" r="6.25"/><circle cx="1735.3" cy="1278.2" r="6.25"/><circle cx="1737.2" cy="1272.4" r="6.25"/><circle cx="1739.0" cy="1332.6" r="6.25"/><circle cx="1740.9" cy="1280.5" r="6.25"/><circle cx="1742.7" cy="1227.8" r="6.25"/><circle cx="1744.5" cy="1222.5" r="6.25"/>
<circle cx="1746.4" cy="1267.5" r="6.25"/><circle cx="1748.2" cy="1239.5" r="6.25"/><circle cx="1750.1" cy="1220.2" r="6.25"/><circle cx="1751.9" cy="1180.6" r="6.25"/><circle cx="1753.8" cy="1156.4" r="6.25"/><circle cx="1755.6" cy="1132.8" r="6.25"/><circle cx="1757.5" cy="1174.9" r="6.25"/><circle cx="1759.3" cy="1160.0" r="6.25"/>
<circle cx="1761.2" cy="1205.3" r="6.25"/><circle cx="1763.0" cy="1148.3" r="6.25"/><circle cx="1764.9" cy="1176.7" r="6.25"/><circle cx="1766.7" cy="1270.6" r="6.25"/><circle cx="1768.6" cy="1260.7" r="6.25"/><circle cx="1770.4" cy="1207.3" r="6.25"/><circle cx="1772.2" cy="1243.9" r="6.25"/><circle cx="1774.1" cy="1233.3" r="6.25"/>
<circle cx="1777.8" cy="1286.4" r="6.25"/><circle cx="1779.6" cy="1293.9" r="6.25"/><circle cx="1781.5" cy="1335.8" r="6.25"/><circle cx="1783.3" cy="1278.1" r="6.25"/><circle cx="1785.2" cy="1263.4" r="6.25"/><circle cx="1787.0" cy="1307.1" r="6.25"/><circle cx="1788.9" cy="1345.5" r="6.25"/><circle cx="1790.7" cy="1226.5" r="6.25"/>
<circle cx="1792.6" cy="1290.7" r="6.25"/><circle cx="1794.4" cy="1321.3" r="6.25"/><circle cx="1796.3" cy="1300.8" r="6.25"/><circle cx="1798.1" cy="1385.3" r="6.25"/><circle cx="1799.9" cy="1328.1" r="6.25"/><circle cx="1801.8" cy="1343.9" r="6.25"/><circle cx="1803.6" cy="1388.3" r="6.25"/><circle cx="1805.5" cy="1352.4" r="6.25"/>
<circle cx="1807.3" cy="1380.3" r="6.25"/><circle cx="1809.2" cy="1263.4" r="6.25"/><circle cx="1811.0" cy="1387.4" r="6.25"/><circle cx="1812.9" cy="1285.8" r="6.25"/><circle cx="1814.7" cy="1288.9" r="6.25"/><circle cx="1816.6" cy="1334.9" r="6.25"/><circle cx="1818.4" cy="1302.0" r="6.25"/><circle cx="1820.3" cy="1253.5" r="6.25"/>
<circle cx="1822.1" cy="1231.0" r="6.25"/><circle cx="1824.0" cy="1173.5" r="6.25"/><circle cx="1825.8" cy="1158.2" r="6.25"/><circle cx="1827.6" cy="1325.0" r="6.25"/><circle cx="1829.5" cy="1183.3" r="6.25"/><circle cx="1831.3" cy="1301.5" r="6.25"/><circle cx="1833.2" cy="1188.4" r="6.25"/><circle cx="1835.0" cy="1257.4" r="6.25"/>
<circle cx="1836.9" cy="1306.5" r="6.25"/><circle cx="1838.7" cy="1189.6" r="6.25"/><circle cx="1840.6" cy="1232.8" r="6.25"/><circle cx="1842.4" cy="1213.6" r="6.25"/><circle cx="1844.3" cy="1320.9" r="6.25"/><circle cx="1846.1" cy="1263.7" r="6.25"/><circle cx="1848.0" cy="1310.1" r="6.25"/><circle cx="1849.8" cy="1224.3" r="6.25"/>
<circle cx="1851.7" cy="1281.9" r="6.25"/>
</g>
<rect class="f" x="226.0" y="1022.0" width="1657.7" height="637.8"/>
<text class="b" font-size="43.0" text-anchor="end" transform="translate(190.20,1069.6) scale(0.972,1.045)">20</text>
<text class="b" font-size="43.0" text-anchor="end" transform="translate(190.20,1175.2) scale(0.972,1.045)">10</text>
<text class="b" font-size="43.0" text-anchor="end" transform="translate(190.20,1280.8) scale(0.972,1.045)">0</text>
<text class="b" font-size="43.0" text-anchor="end" transform="translate(190.20,1386.4) scale(0.972,1.045)">10</text>
<rect x="120.8" y="1373.3" width="21.1" height="4.9"/>
<text class="b" font-size="43.0" text-anchor="end" transform="translate(190.20,1492.0) scale(0.972,1.045)">20</text>
<rect x="120.8" y="1478.9" width="21.1" height="4.9"/>
<text class="b" font-size="43.0" text-anchor="end" transform="translate(190.20,1597.5) scale(0.972,1.045)">30</text>
<rect x="120.8" y="1584.5" width="21.1" height="4.9"/>
<text class="b" font-size="43.0" text-anchor="end" transform="translate(269.62,1727.1) scale(0.972,1.045)">0</text>
<text class="b" font-size="43.0" text-anchor="end" transform="translate(402.58,1727.1) scale(0.972,1.045)">6</text>
<text class="b" font-size="43.0" text-anchor="end" transform="translate(547.16,1727.1) scale(0.972,1.045)">12</text>
<text class="b" font-size="43.0" text-anchor="end" transform="translate(680.12,1727.1) scale(0.972,1.045)">18</text>
<text class="b" font-size="43.0" text-anchor="end" transform="translate(813.08,1727.1) scale(0.972,1.045)">24</text>
<text class="b" font-size="43.0" text-anchor="end" transform="translate(946.04,1727.1) scale(0.972,1.045)">30</text>
<text class="b" font-size="43.0" text-anchor="end" transform="translate(1079.00,1727.1) scale(0.972,1.045)">36</text>
<text class="b" font-size="43.0" text-anchor="end" transform="translate(1211.96,1727.1) scale(0.972,1.045)">42</text>
<text class="b" font-size="43.0" text-anchor="end" transform="translate(1344.91,1727.1) scale(0.972,1.045)">48</text>
<text class="b" font-size="43.0" text-anchor="end" transform="translate(1477.87,1727.1) scale(0.972,1.045)">54</text>
<text class="b" font-size="43.0" text-anchor="end" transform="translate(1610.83,1727.1) scale(0.972,1.045)">60</text>
<text class="b" font-size="43.0" text-anchor="end" transform="translate(1743.79,1727.1) scale(0.972,1.045)">66</text>
<text class="b" font-size="43.0" text-anchor="end" transform="translate(1876.75,1727.1) scale(0.972,1.045)">72</text>
<text font-size="43" transform="translate(90,1447.74) rotate(-90) scale(0.9807,1.0)">North (mm)</text>
<path class="t" d="M258.0 1838.1v-19M258.0 2475.9v19M302.3 1838.1v-10M302.3 2475.9v10M346.6 1838.1v-10M346.6 2475.9v10M391.0 1838.1v-19M391.0 2475.9v19M435.3 1838.1v-10M435.3 2475.9v10M479.6 1838.1v-10M479.6 2475.9v10M523.9 1838.1v-19M523.9 2475.9v19M568.2 1838.1v-10M568.2 2475.9v10M612.6 1838.1v-10M612.6 2475.9v10M656.9 1838.1v-19M656.9 2475.9v19M701.2 1838.1v-10M701.2 2475.9v10M745.5 1838.1v-10M745.5 2475.9v10M789.8 1838.1v-19M789.8 2475.9v19M834.2 1838.1v-10M834.2 2475.9v10M878.5 1838.1v-10M878.5 2475.9v10M922.8 1838.1v-19M922.8 2475.9v19M967.1 1838.1v-10M967.1 2475.9v10M1011.4 1838.1v-10M1011.4 2475.9v10M1055.8 1838.1v-19M1055.8 2475.9v19M1100.1 1838.1v-10M1100.1 2475.9v10M1144.4 1838.1v-10M1144.4 2475.9v10M1188.7 1838.1v-19M1188.7 2475.9v19M1233.0 1838.1v-10M1233.0 2475.9v10M1277.3 1838.1v-10M1277.3 2475.9v10M1321.7 1838.1v-19M1321.7 2475.9v19M1366.0 1838.1v-10M1366.0 2475.9v10M1410.3 1838.1v-10M1410.3 2475.9v10M1454.6 1838.1v-19M1454.6 2475.9v19M1498.9 1838.1v-10M1498.9 2475.9v10M1543.3 1838.1v-10M1543.3 2475.9v10M1587.6 1838.1v-19M1587.6 2475.9v19M1631.9 1838.1v-10M1631.9 2475.9v10M1676.2 1838.1v-10M1676.2 2475.9v10M1720.5 1838.1v-19M1720.5 2475.9v19M1764.9 1838.1v-10M1764.9 2475.9v10M1809.2 1838.1v-10M1809.2 2475.9v10M1853.5 1838.1v-19M1853.5 2475.9v19M226.0 1873.5h-19M1883.7 1873.5h19M226.0 1986.6h-19M1883.7 1986.6h19M226.0 2099.6h-19M1883.7 2099.6h19M226.0 2212.6h-19M1883.7 2212.6h19M226.0 2325.6h-19M1883.7 2325.6h19M226.0 2438.6h-19M1883.7 2438.6h19"/>
<g class="d">
<circle cx="258.0" cy="2212.1" r="6.25"/><circle cx="261.7" cy="2145.5" r="6.25"/><circle cx="263.5" cy="2156.7" r="6.25"/><circle cx="265.4" cy="2177.4" r="6.25"/><circle cx="267.2" cy="2090.7" r="6.25"/><circle cx="269.1" cy="2114.8" r="6.25"/><circle cx="270.9" cy="1970.2" r="6.25"/><circle cx="272.8" cy="1995.7" r="6.25"/>
<circle cx="274.6" cy="1981.7" r="6.25"/><circle cx="276.5" cy="1867.2" r="6.25"/><circle cx="278.3" cy="1908.2" r="6.25"/><circle cx="280.2" cy="1962.5" r="6.25"/><circle cx="282.0" cy="1904.9" r="6.25"/><circle cx="283.9" cy="1924.2" r="6.25"/><circle cx="285.7" cy="1985.3" r="6.25"/><circle cx="287.5" cy="1908.9" r="6.25"/>
<circle cx="289.4" cy="2007.4" r="6.25"/><circle cx="291.2" cy="2054.2" r="6.25"/><circle cx="293.1" cy="2036.2" r="6.25"/><circle cx="294.9" cy="2079.9" r="6.25"/><circle cx="296.8" cy="2200.4" r="6.25"/><circle cx="298.6" cy="2149.0" r="6.25"/><circle cx="300.5" cy="2055.6" r="6.25"/><circle cx="302.3" cy="1967.3" r="6.25"/>
<circle cx="304.2" cy="1977.2" r="6.25"/><circle cx="306.0" cy="2070.4" r="6.25"/><circle cx="307.9" cy="2133.7" r="6.25"/><circle cx="309.7" cy="2102.7" r="6.25"/><circle cx="311.6" cy="2200.4" r="6.25"/><circle cx="313.4" cy="2137.8" r="6.25"/><circle cx="315.2" cy="2231.3" r="6.25"/><circle cx="317.1" cy="2246.6" r="6.25"/>
<circle cx="318.9" cy="2309.3" r="6.25"/><circle cx="320.8" cy="2318.6" r="6.25"/><circle cx="322.6" cy="2252.5" r="6.25"/><circle cx="324.5" cy="2274.8" r="6.25"/><circle cx="326.3" cy="2230.4" r="6.25"/><circle cx="328.2" cy="2133.3" r="6.25"/><circle cx="330.0" cy="2255.1" r="6.25"/><circle cx="331.9" cy="2266.6" r="6.25"/>
<circle cx="333.7" cy="2240.7" r="6.25"/><circle cx="335.6" cy="2234.9" r="6.25"/><circle cx="337.4" cy="2256.4" r="6.25"/><circle cx="339.3" cy="2215.7" r="6.25"/><circle cx="341.1" cy="2278.5" r="6.25"/><circle cx="342.9" cy="2285.5" r="6.25"/><circle cx="344.8" cy="2311.5" r="6.25"/><circle cx="346.6" cy="2331.6" r="6.25"/>
<circle cx="348.5" cy="2202.2" r="6.25"/><circle cx="350.3" cy="2241.2" r="6.25"/><circle cx="352.2" cy="2236.7" r="6.25"/><circle cx="354.0" cy="2184.6" r="6.25"/><circle cx="355.9" cy="2190.3" r="6.25"/><circle cx="357.7" cy="2223.6" r="6.25"/><circle cx="359.6" cy="2104.9" r="6.25"/><circle cx="361.4" cy="2112.3" r="6.25"/>
<circle cx="363.3" cy="2225.9" r="6.25"/><circle cx="365.1" cy="2242.1" r="6.25"/><circle cx="367.0" cy="2098.2" r="6.25"/><circle cx="368.8" cy="2083.9" r="6.25"/><circle cx="370.6" cy="1988.9" r="6.25"/><circle cx="372.5" cy="2072.2" r="6.25"/><circle cx="374.3" cy="2091.4" r="6.25"/><circle cx="376.2" cy="2082.1" r="6.25"/>
<circle cx="378.0" cy="1985.3" r="6.25"/><circle cx="379.9" cy="1960.7" r="6.25"/><circle cx="381.7" cy="2039.3" r="6.25"/><circle cx="383.6" cy="2117.1" r="6.25"/><circle cx="385.4" cy="2147.7" r="6.25"/><circle cx="387.3" cy="1964.3" r="6.25"/><circle cx="389.1" cy="2011.0" r="6.25"/><circle cx="391.0" cy="2016.8" r="6.25"/>
<circle cx="392.8" cy="2108.5" r="6.25"/><circle cx="394.7" cy="2146.4" r="6.25"/><circle cx="396.5" cy="2083.5" r="6.25"/><circle cx="398.3" cy="2247.5" r="6.25"/><circle cx="400.2" cy="2045.2" r="6.25"/><circle cx="402.0" cy="2164.2" r="6.25"/><circle cx="403.9" cy="2076.3" r="6.25"/><circle cx="405.7" cy="2401.0" r="6.25"/>
<circle cx="407.6" cy="2302.8" r="6.25"/><circle cx="409.4" cy="2068.2" r="6.25"/><circle cx="411.3" cy="2280.0" r="6.25"/><circle cx="413.1" cy="2305.0" r="6.25"/><circle cx="415.0" cy="2329.0" r="6.25"/><circle cx="416.8" cy="2298.5" r="6.25"/><circle cx="418.7" cy="2247.0" r="6.25"/><circle cx="420.5" cy="2413.4" r="6.25"/>
<circle cx="422.4" cy="2133.3" r="6.25"/><circle cx="424.2" cy="2263.8" r="6.25"/><circle cx="426.0" cy="2390.2" r="6.25"/><circle cx="427.9" cy="2275.7" r="6.25"/><circle cx="429.7" cy="2371.5" r="6.25"/><circle cx="431.6" cy="2246.2" r="6.25"/><circle cx="433.4" cy="2081.0" r="6.25"/><circle cx="435.3" cy="2218.4" r="6.25"/>
<circle cx="437.1" cy="2153.5" r="6.25"/><circle cx="439.0" cy="2264.4" r="6.25"/><circle cx="440.8" cy="2333.6" r="6.25"/><circle cx="442.7" cy="2115.3" r="6.25"/><circle cx="444.5" cy="2262.3" r="6.25"/><circle cx="446.4" cy="2223.2" r="6.25"/><circle cx="448.2" cy="2129.2" r="6.25"/><circle cx="450.1" cy="2293.3" r="6.25"/>
<circle cx="451.9" cy="2288.3" r="6.25"/><circle cx="453.7" cy="2305.4" r="6.25"/><circle cx="455.6" cy="2265.1" r="6.25"/><circle cx="457.4" cy="2283.3" r="6.25"/><circle cx="459.3" cy="2212.1" r="6.25"/><circle cx="461.1" cy="2181.0" r="6.25"/><circle cx="463.0" cy="2197.5" r="6.25"/><circle cx="464.8" cy="2182.8" r="6.25"/>
<circle cx="466.7" cy="2112.6" r="6.25"/><circle cx="470.4" cy="2184.6" r="6.25"/><circle cx="472.2" cy="2237.3" r="6.25"/><circle cx="474.1" cy="2231.7" r="6.25"/><circle cx="475.9" cy="2213.9" r="6.25"/><circle cx="477.8" cy="2219.9" r="6.25"/><circle cx="479.6" cy="2225.9" r="6.25"/><circle cx="481.4" cy="2282.4" r="6.25"/>
<circle cx="483.3" cy="2274.6" r="6.25"/><circle cx="485.1" cy="2121.6" r="6.25"/><circle cx="487.0" cy="2213.0" r="6.25"/><circle cx="488.8" cy="2109.9" r="6.25"/><circle cx="490.7" cy="2155.3" r="6.25"/><circle cx="492.5" cy="2119.5" r="6.25"/><circle cx="494.4" cy="2172.5" r="6.25"/><circle cx="496.2" cy="2297.6" r="6.25"/>
<circle cx="498.1" cy="2274.2" r="6.25"/><circle cx="499.9" cy="2307.8" r="6.25"/><circle cx="501.8" cy="2225.0" r="6.25"/><circle cx="503.6" cy="2173.2" r="6.25"/><circle cx="505.5" cy="2227.4" r="6.25"/><circle cx="507.3" cy="2251.5" r="6.25"/><circle cx="509.1" cy="2198.6" r="6.25"/><circle cx="511.0" cy="2179.2" r="6.25"/>
<circle cx="512.8" cy="2237.1" r="6.25"/><circle cx="514.7" cy="2275.3" r="6.25"/><circle cx="516.5" cy="2190.0" r="6.25"/><circle cx="518.4" cy="2213.0" r="6.25"/><circle cx="520.2" cy="2151.3" r="6.25"/><circle cx="522.1" cy="2258.6" r="6.25"/><circle cx="523.9" cy="2185.8" r="6.25"/><circle cx="525.8" cy="2117.1" r="6.25"/>
<circle cx="527.6" cy="2158.5" r="6.25"/><circle cx="529.5" cy="2172.9" r="6.25"/><circle cx="531.3" cy="2139.6" r="6.25"/><circle cx="533.1" cy="2168.4" r="6.25"/><circle cx="535.0" cy="2100.9" r="6.25"/><circle cx="536.8" cy="2105.4" r="6.25"/><circle cx="538.7" cy="2154.9" r="6.25"/><circle cx="540.5" cy="2118.9" r="6.25"/>
<circle cx="542.4" cy="2085.1" r="6.25"/><circle cx="544.2" cy="2127.9" r="6.25"/><circle cx="546.1" cy="1850.5" r="6.25"/><circle cx="547.9" cy="2031.2" r="6.25"/><circle cx="549.8" cy="2263.3" r="6.25"/><circle cx="551.6" cy="1913.0" r="6.25"/><circle cx="553.5" cy="1862.3" r="6.25"/><circle cx="555.3" cy="2145.9" r="6.25"/>
<circle cx="557.2" cy="2021.8" r="6.25"/><circle cx="559.0" cy="2099.7" r="6.25"/><circle cx="560.8" cy="2269.4" r="6.25"/><circle cx="562.7" cy="2170.5" r="6.25"/><circle cx="564.5" cy="2080.3" r="6.25"/><circle cx="566.4" cy="2187.3" r="6.25"/><circle cx="568.2" cy="2219.6" r="6.25"/><circle cx="570.1" cy="2032.3" r="6.25"/>
<circle cx="571.9" cy="2160.3" r="6.25"/><circle cx="573.8" cy="2213.9" r="6.25"/><circle cx="575.6" cy="2145.9" r="6.25"/><circle cx="577.5" cy="2114.4" r="6.25"/><circle cx="579.3" cy="2289.4" r="6.25"/><circle cx="581.2" cy="2239.1" r="6.25"/><circle cx="583.0" cy="2241.5" r="6.25"/><circle cx="584.9" cy="2243.9" r="6.25"/>
<circle cx="586.7" cy="2165.1" r="6.25"/><circle cx="588.5" cy="2176.8" r="6.25"/><circle cx="590.4" cy="2245.7" r="6.25"/><circle cx="592.2" cy="2283.9" r="6.25"/><circle cx="594.1" cy="2229.2" r="6.25"/><circle cx="595.9" cy="2343.1" r="6.25"/><circle cx="597.8" cy="2252.0" r="6.25"/><circle cx="599.6" cy="2288.3" r="6.25"/>
<circle cx="601.5" cy="2339.9" r="6.25"/><circle cx="603.3" cy="2252.0" r="6.25"/><circle cx="610.7" cy="2077.2" r="6.25"/><circle cx="612.6" cy="2027.8" r="6.25"/><circle cx="614.4" cy="2184.0" r="6.25"/><circle cx="616.2" cy="2109.9" r="6.25"/><circle cx="618.1" cy="2251.5" r="6.25"/><circle cx="619.9" cy="2147.3" r="6.25"/>
<circle cx="621.8" cy="2143.5" r="6.25"/><circle cx="623.6" cy="2139.6" r="6.25"/><circle cx="625.5" cy="1997.0" r="6.25"/><circle cx="627.3" cy="1965.5" r="6.25"/><circle cx="629.2" cy="2002.4" r="6.25"/><circle cx="631.0" cy="2178.8" r="6.25"/><circle cx="632.9" cy="2044.7" r="6.25"/><circle cx="634.7" cy="1955.3" r="6.25"/>
<circle cx="636.6" cy="2098.6" r="6.25"/><circle cx="638.4" cy="2146.8" r="6.25"/><circle cx="640.3" cy="2142.3" r="6.25"/><circle cx="642.1" cy="2163.3" r="6.25"/><circle cx="643.9" cy="2078.1" r="6.25"/><circle cx="645.8" cy="1955.6" r="6.25"/><circle cx="647.6" cy="1968.4" r="6.25"/><circle cx="649.5" cy="2011.8" r="6.25"/>
<circle cx="651.3" cy="2092.3" r="6.25"/><circle cx="653.2" cy="2109.4" r="6.25"/><circle cx="655.0" cy="2286.1" r="6.25"/><circle cx="656.9" cy="2197.2" r="6.25"/><circle cx="658.7" cy="2201.6" r="6.25"/><circle cx="660.6" cy="2230.4" r="6.25"/><circle cx="662.4" cy="2196.3" r="6.25"/><circle cx="664.3" cy="2124.7" r="6.25"/>
<circle cx="666.1" cy="2275.3" r="6.25"/><circle cx="668.0" cy="2277.4" r="6.25"/><circle cx="669.8" cy="2279.6" r="6.25"/><circle cx="671.6" cy="2243.4" r="6.25"/><circle cx="673.5" cy="2107.2" r="6.25"/><circle cx="675.3" cy="2298.0" r="6.25"/><circle cx="677.2" cy="2179.2" r="6.25"/><circle cx="679.0" cy="2313.2" r="6.25"/>
<circle cx="680.9" cy="2241.2" r="6.25"/><circle cx="682.7" cy="2255.8" r="6.25"/><circle cx="684.6" cy="2170.2" r="6.25"/><circle cx="686.4" cy="2226.3" r="6.25"/><circle cx="688.3" cy="2293.1" r="6.25"/><circle cx="690.1" cy="2127.9" r="6.25"/><circle cx="692.0" cy="2105.1" r="6.25"/><circle cx="693.8" cy="2134.2" r="6.25"/>
<circle cx="695.7" cy="2116.6" r="6.25"/><circle cx="697.5" cy="2280.7" r="6.25"/><circle cx="699.3" cy="2310.2" r="6.25"/><circle cx="701.2" cy="2270.3" r="6.25"/><circle cx="703.0" cy="2370.5" r="6.25"/><circle cx="704.9" cy="2224.7" r="6.25"/><circle cx="706.7" cy="2223.6" r="6.25"/><circle cx="708.6" cy="2148.2" r="6.25"/>
<circle cx="710.4" cy="2251.6" r="6.25"/><circle cx="712.3" cy="2195.0" r="6.25"/><circle cx="714.1" cy="2170.2" r="6.25"/><circle cx="716.0" cy="2308.4" r="6.25"/><circle cx="717.8" cy="2168.4" r="6.25"/><circle cx="719.7" cy="2338.2" r="6.25"/><circle cx="721.5" cy="2232.2" r="6.25"/><circle cx="723.4" cy="2215.1" r="6.25"/>
<circle cx="725.2" cy="2250.6" r="6.25"/><circle cx="727.0" cy="2144.6" r="6.25"/><circle cx="728.9" cy="2334.5" r="6.25"/><circle cx="730.7" cy="2244.8" r="6.25"/><circle cx="732.6" cy="2408.8" r="6.25"/><circle cx="734.4" cy="2425.7" r="6.25"/><circle cx="736.3" cy="2281.1" r="6.25"/><circle cx="738.1" cy="2221.1" r="6.25"/>
<circle cx="740.0" cy="2463.0" r="6.25"/><circle cx="741.8" cy="2333.4" r="6.25"/><circle cx="743.7" cy="2253.8" r="6.25"/><circle cx="745.5" cy="2264.4" r="6.25"/><circle cx="747.4" cy="2186.4" r="6.25"/><circle cx="749.2" cy="2219.6" r="6.25"/><circle cx="751.1" cy="2212.4" r="6.25"/><circle cx="752.9" cy="2158.0" r="6.25"/>
<circle cx="754.7" cy="2118.0" r="6.25"/><circle cx="756.6" cy="2176.1" r="6.25"/><circle cx="758.4" cy="2079.7" r="6.25"/><circle cx="760.3" cy="2161.2" r="6.25"/><circle cx="762.1" cy="2250.2" r="6.25"/><circle cx="764.0" cy="2213.3" r="6.25"/><circle cx="765.8" cy="2241.2" r="6.25"/><circle cx="767.7" cy="2187.3" r="6.25"/>
<circle cx="769.5" cy="2197.2" r="6.25"/><circle cx="771.4" cy="2150.0" r="6.25"/><circle cx="773.2" cy="2293.7" r="6.25"/><circle cx="775.1" cy="2311.3" r="6.25"/><circle cx="776.9" cy="2408.2" r="6.25"/><circle cx="778.8" cy="2278.5" r="6.25"/><circle cx="780.6" cy="2379.1" r="6.25"/><circle cx="782.4" cy="2292.2" r="6.25"/>
<circle cx="784.3" cy="2199.0" r="6.25"/><circle cx="786.1" cy="2248.4" r="6.25"/><circle cx="788.0" cy="2134.6" r="6.25"/><circle cx="789.8" cy="2218.7" r="6.25"/><circle cx="791.7" cy="2380.6" r="6.25"/><circle cx="793.5" cy="2328.2" r="6.25"/><circle cx="795.4" cy="2124.3" r="6.25"/><circle cx="797.2" cy="2132.4" r="6.25"/>
<circle cx="799.1" cy="2138.7" r="6.25"/><circle cx="800.9" cy="2037.6" r="6.25"/><circle cx="802.8" cy="2161.2" r="6.25"/><circle cx="804.6" cy="2142.7" r="6.25"/><circle cx="806.5" cy="2283.9" r="6.25"/><circle cx="808.3" cy="2347.9" r="6.25"/><circle cx="810.1" cy="2344.0" r="6.25"/><circle cx="812.0" cy="2250.2" r="6.25"/>
<circle cx="813.8" cy="2266.6" r="6.25"/><circle cx="815.7" cy="2315.4" r="6.25"/><circle cx="817.5" cy="2203.4" r="6.25"/><circle cx="819.4" cy="2176.5" r="6.25"/><circle cx="821.2" cy="2116.2" r="6.25"/><circle cx="823.1" cy="2158.0" r="6.25"/><circle cx="826.8" cy="2248.4" r="6.25"/><circle cx="828.6" cy="2158.5" r="6.25"/>
<circle cx="830.5" cy="2150.0" r="6.25"/><circle cx="832.3" cy="2019.5" r="6.25"/><circle cx="834.2" cy="2009.2" r="6.25"/><circle cx="836.0" cy="2086.6" r="6.25"/><circle cx="837.8" cy="1957.1" r="6.25"/><circle cx="839.7" cy="2016.4" r="6.25"/><circle cx="841.5" cy="1959.8" r="6.25"/><circle cx="843.4" cy="1913.9" r="6.25"/>
<circle cx="845.2" cy="1918.8" r="6.25"/><circle cx="847.1" cy="1898.8" r="6.25"/><circle cx="848.9" cy="2009.6" r="6.25"/><circle cx="850.8" cy="2045.2" r="6.25"/><circle cx="852.6" cy="2035.3" r="6.25"/><circle cx="854.5" cy="2028.1" r="6.25"/><circle cx="856.3" cy="2146.4" r="6.25"/><circle cx="858.2" cy="2090.7" r="6.25"/>
<circle cx="860.0" cy="2022.4" r="6.25"/><circle cx="861.9" cy="2067.1" r="6.25"/><circle cx="863.7" cy="2022.7" r="6.25"/><circle cx="865.5" cy="2137.8" r="6.25"/><circle cx="867.4" cy="2154.9" r="6.25"/><circle cx="869.2" cy="2033.2" r="6.25"/><circle cx="871.1" cy="2125.6" r="6.25"/><circle cx="872.9" cy="1983.5" r="6.25"/>
<circle cx="874.8" cy="2022.2" r="6.25"/><circle cx="876.6" cy="2140.0" r="6.25"/><circle cx="878.5" cy="2062.8" r="6.25"/><circle cx="880.3" cy="2125.6" r="6.25"/><circle cx="882.2" cy="2194.5" r="6.25"/><circle cx="884.0" cy="2184.9" r="6.25"/><circle cx="885.9" cy="2163.3" r="6.25"/><circle cx="887.7" cy="2111.2" r="6.25"/>
<circle cx="889.6" cy="2186.4" r="6.25"/><circle cx="891.4" cy="2162.6" r="6.25"/><circle cx="893.2" cy="2078.5" r="6.25"/><circle cx="895.1" cy="2131.9" r="6.25"/><circle cx="896.9" cy="2095.9" r="6.25"/><circle cx="898.8" cy="2165.1" r="6.25"/><circle cx="902.5" cy="2082.6" r="6.25"/><circle cx="904.3" cy="2094.7" r="6.25"/>
<circle cx="906.2" cy="2109.4" r="6.25"/><circle cx="908.0" cy="2054.7" r="6.25"/><circle cx="909.9" cy="1992.2" r="6.25"/><circle cx="911.7" cy="1911.2" r="6.25"/><circle cx="913.6" cy="2007.4" r="6.25"/><circle cx="915.4" cy="2165.1" r="6.25"/><circle cx="917.3" cy="2043.4" r="6.25"/><circle cx="919.1" cy="2027.6" r="6.25"/>
<circle cx="920.9" cy="2028.5" r="6.25"/><circle cx="922.8" cy="2067.1" r="6.25"/><circle cx="924.6" cy="2107.2" r="6.25"/><circle cx="926.5" cy="2011.0" r="6.25"/><circle cx="928.3" cy="1988.2" r="6.25"/><circle cx="930.2" cy="2036.2" r="6.25"/><circle cx="932.0" cy="2054.2" r="6.25"/><circle cx="933.9" cy="1953.3" r="6.25"/>
<circle cx="935.7" cy="2146.4" r="6.25"/><circle cx="937.6" cy="2100.4" r="6.25"/><circle cx="939.4" cy="1981.4" r="6.25"/><circle cx="941.3" cy="2246.1" r="6.25"/><circle cx="943.1" cy="2166.2" r="6.25"/><circle cx="945.0" cy="2222.9" r="6.25"/><circle cx="946.8" cy="2113.2" r="6.25"/><circle cx="948.6" cy="2267.0" r="6.25"/>
<circle cx="950.5" cy="2133.3" r="6.25"/><circle cx="952.3" cy="2324.3" r="6.25"/><circle cx="954.2" cy="2083.0" r="6.25"/><circle cx="956.0" cy="2233.1" r="6.25"/><circle cx="957.9" cy="2197.5" r="6.25"/><circle cx="959.7" cy="2226.8" r="6.25"/><circle cx="961.6" cy="2133.3" r="6.25"/><circle cx="963.4" cy="2220.5" r="6.25"/>
<circle cx="965.3" cy="2026.0" r="6.25"/><circle cx="967.1" cy="2177.7" r="6.25"/><circle cx="969.0" cy="2038.5" r="6.25"/><circle cx="970.8" cy="2145.9" r="6.25"/><circle cx="972.7" cy="2115.3" r="6.25"/><circle cx="974.5" cy="2051.1" r="6.25"/><circle cx="976.3" cy="2157.6" r="6.25"/><circle cx="978.2" cy="2052.4" r="6.25"/>
<circle cx="980.0" cy="2162.1" r="6.25"/><circle cx="981.9" cy="2102.7" r="6.25"/><circle cx="983.7" cy="2189.4" r="6.25"/><circle cx="985.6" cy="2104.5" r="6.25"/><circle cx="987.4" cy="2039.8" r="6.25"/><circle cx="989.3" cy="2086.2" r="6.25"/><circle cx="991.1" cy="2036.2" r="6.25"/><circle cx="993.0" cy="2173.8" r="6.25"/>
<circle cx="994.8" cy="2203.1" r="6.25"/><circle cx="996.7" cy="2207.6" r="6.25"/><circle cx="998.5" cy="2167.5" r="6.25"/><circle cx="1000.4" cy="2278.5" r="6.25"/><circle cx="1002.2" cy="2124.9" r="6.25"/><circle cx="1004.0" cy="2222.3" r="6.25"/><circle cx="1005.9" cy="2265.9" r="6.25"/><circle cx="1007.7" cy="2332.3" r="6.25"/>
<circle cx="1009.6" cy="2318.0" r="6.25"/><circle cx="1011.4" cy="2309.5" r="6.25"/><circle cx="1013.3" cy="2124.3" r="6.25"/><circle cx="1015.1" cy="2257.3" r="6.25"/><circle cx="1017.0" cy="2211.5" r="6.25"/><circle cx="1018.8" cy="2201.6" r="6.25"/><circle cx="1020.7" cy="2273.1" r="6.25"/><circle cx="1022.5" cy="2240.3" r="6.25"/>
<circle cx="1024.4" cy="2154.9" r="6.25"/><circle cx="1026.2" cy="2097.7" r="6.25"/><circle cx="1028.1" cy="2248.0" r="6.25"/><circle cx="1029.9" cy="2158.5" r="6.25"/><circle cx="1031.7" cy="2126.7" r="6.25"/><circle cx="1033.6" cy="2149.5" r="6.25"/><circle cx="1035.4" cy="2167.5" r="6.25"/><circle cx="1037.3" cy="2207.9" r="6.25"/>
<circle cx="1039.1" cy="2071.6" r="6.25"/><circle cx="1041.0" cy="2213.0" r="6.25"/><circle cx="1042.8" cy="2279.0" r="6.25"/><circle cx="1044.7" cy="2232.6" r="6.25"/><circle cx="1046.5" cy="2239.4" r="6.25"/><circle cx="1048.4" cy="2181.0" r="6.25"/><circle cx="1050.2" cy="2273.1" r="6.25"/><circle cx="1052.1" cy="2197.7" r="6.25"/>
<circle cx="1053.9" cy="2282.4" r="6.25"/><circle cx="1055.8" cy="2143.6" r="6.25"/><circle cx="1057.6" cy="2252.0" r="6.25"/><circle cx="1059.4" cy="2171.4" r="6.25"/><circle cx="1061.3" cy="2176.8" r="6.25"/><circle cx="1063.1" cy="2076.3" r="6.25"/><circle cx="1065.0" cy="2155.8" r="6.25"/><circle cx="1066.8" cy="2095.6" r="6.25"/>
<circle cx="1068.7" cy="2181.9" r="6.25"/><circle cx="1070.5" cy="2103.1" r="6.25"/><circle cx="1072.4" cy="2150.9" r="6.25"/><circle cx="1076.1" cy="2277.0" r="6.25"/><circle cx="1077.9" cy="2146.4" r="6.25"/><circle cx="1079.8" cy="2161.2" r="6.25"/><circle cx="1081.6" cy="2287.6" r="6.25"/><circle cx="1083.4" cy="2074.5" r="6.25"/>
<circle cx="1085.3" cy="2339.7" r="6.25"/><circle cx="1087.1" cy="2120.4" r="6.25"/><circle cx="1089.0" cy="2185.8" r="6.25"/><circle cx="1090.8" cy="2369.2" r="6.25"/><circle cx="1092.7" cy="2345.7" r="6.25"/><circle cx="1094.5" cy="2364.8" r="6.25"/><circle cx="1096.4" cy="2416.9" r="6.25"/><circle cx="1098.2" cy="2360.9" r="6.25"/>
<circle cx="1100.1" cy="2259.4" r="6.25"/><circle cx="1101.9" cy="2285.0" r="6.25"/><circle cx="1103.8" cy="2342.5" r="6.25"/><circle cx="1105.6" cy="2280.3" r="6.25"/><circle cx="1107.5" cy="2266.6" r="6.25"/><circle cx="1109.3" cy="2321.5" r="6.25"/><circle cx="1111.1" cy="2289.4" r="6.25"/><circle cx="1113.0" cy="2283.3" r="6.25"/>
<circle cx="1114.8" cy="2293.1" r="6.25"/><circle cx="1116.7" cy="2268.1" r="6.25"/><circle cx="1118.5" cy="2246.6" r="6.25"/><circle cx="1120.4" cy="2383.3" r="6.25"/><circle cx="1122.2" cy="2239.8" r="6.25"/><circle cx="1124.1" cy="2307.4" r="6.25"/><circle cx="1125.9" cy="2429.9" r="6.25"/><circle cx="1127.8" cy="2423.4" r="6.25"/>
<circle cx="1129.6" cy="2359.8" r="6.25"/><circle cx="1131.5" cy="2368.5" r="6.25"/><circle cx="1133.3" cy="2292.6" r="6.25"/><circle cx="1135.2" cy="2362.0" r="6.25"/><circle cx="1137.0" cy="2159.7" r="6.25"/><circle cx="1138.8" cy="2291.5" r="6.25"/><circle cx="1140.7" cy="2267.2" r="6.25"/><circle cx="1142.5" cy="2215.1" r="6.25"/>
<circle cx="1144.4" cy="2218.4" r="6.25"/><circle cx="1146.2" cy="2183.7" r="6.25"/><circle cx="1148.1" cy="2118.0" r="6.25"/><circle cx="1149.9" cy="2105.1" r="6.25"/><circle cx="1151.8" cy="2179.7" r="6.25"/><circle cx="1153.6" cy="2140.9" r="6.25"/><circle cx="1155.5" cy="2018.8" r="6.25"/><circle cx="1157.3" cy="2114.4" r="6.25"/>
<circle cx="1159.2" cy="2010.1" r="6.25"/><circle cx="1161.0" cy="2217.5" r="6.25"/><circle cx="1162.9" cy="2251.1" r="6.25"/><circle cx="1164.7" cy="2175.9" r="6.25"/><circle cx="1166.5" cy="2109.0" r="6.25"/><circle cx="1168.4" cy="2226.8" r="6.25"/><circle cx="1170.2" cy="2150.0" r="6.25"/><circle cx="1172.1" cy="2186.9" r="6.25"/>
<circle cx="1173.9" cy="2198.1" r="6.25"/><circle cx="1175.8" cy="2308.4" r="6.25"/><circle cx="1177.6" cy="2201.1" r="6.25"/><circle cx="1179.5" cy="2065.3" r="6.25"/><circle cx="1181.3" cy="2309.3" r="6.25"/><circle cx="1183.2" cy="2245.3" r="6.25"/><circle cx="1185.0" cy="2102.7" r="6.25"/><circle cx="1186.9" cy="2303.0" r="6.25"/>
<circle cx="1188.7" cy="2375.7" r="6.25"/><circle cx="1190.6" cy="2297.0" r="6.25"/><circle cx="1192.4" cy="2268.5" r="6.25"/><circle cx="1194.2" cy="2319.5" r="6.25"/><circle cx="1196.1" cy="2190.3" r="6.25"/><circle cx="1197.9" cy="2348.3" r="6.25"/><circle cx="1199.8" cy="2425.5" r="6.25"/><circle cx="1201.6" cy="2430.3" r="6.25"/>
<circle cx="1203.5" cy="2226.5" r="6.25"/><circle cx="1205.3" cy="2274.2" r="6.25"/><circle cx="1207.2" cy="2076.7" r="6.25"/><circle cx="1209.0" cy="2141.9" r="6.25"/><circle cx="1210.9" cy="2332.3" r="6.25"/><circle cx="1212.7" cy="2188.5" r="6.25"/><circle cx="1214.6" cy="2010.1" r="6.25"/><circle cx="1216.4" cy="2324.1" r="6.25"/>
<circle cx="1218.3" cy="2269.2" r="6.25"/><circle cx="1220.1" cy="2373.7" r="6.25"/><circle cx="1221.9" cy="2216.4" r="6.25"/><circle cx="1223.8" cy="2188.2" r="6.25"/><circle cx="1225.6" cy="2387.2" r="6.25"/><circle cx="1227.5" cy="2329.5" r="6.25"/><circle cx="1229.3" cy="2229.2" r="6.25"/><circle cx="1231.2" cy="2257.9" r="6.25"/>
<circle cx="1233.0" cy="2287.0" r="6.25"/><circle cx="1234.9" cy="2248.8" r="6.25"/><circle cx="1236.7" cy="2301.3" r="6.25"/><circle cx="1238.6" cy="2251.6" r="6.25"/><circle cx="1240.4" cy="2403.0" r="6.25"/><circle cx="1242.3" cy="2301.9" r="6.25"/><circle cx="1244.1" cy="2255.6" r="6.25"/><circle cx="1246.0" cy="2234.6" r="6.25"/>
<circle cx="1247.8" cy="2188.5" r="6.25"/><circle cx="1249.6" cy="2165.1" r="6.25"/><circle cx="1251.5" cy="2141.0" r="6.25"/><circle cx="1253.3" cy="2216.4" r="6.25"/><circle cx="1255.2" cy="2222.7" r="6.25"/><circle cx="1257.0" cy="2249.7" r="6.25"/><circle cx="1258.9" cy="2287.6" r="6.25"/><circle cx="1260.7" cy="2234.0" r="6.25"/>
<circle cx="1262.6" cy="2354.0" r="6.25"/><circle cx="1264.4" cy="2172.3" r="6.25"/><circle cx="1266.3" cy="2100.9" r="6.25"/><circle cx="1268.1" cy="2142.7" r="6.25"/><circle cx="1270.0" cy="2176.8" r="6.25"/><circle cx="1271.8" cy="2069.8" r="6.25"/><circle cx="1273.7" cy="1973.3" r="6.25"/><circle cx="1275.5" cy="2166.2" r="6.25"/>
<circle cx="1277.3" cy="2280.3" r="6.25"/><circle cx="1279.2" cy="2241.7" r="6.25"/><circle cx="1281.0" cy="2268.8" r="6.25"/><circle cx="1282.9" cy="2207.0" r="6.25"/><circle cx="1284.7" cy="2221.4" r="6.25"/><circle cx="1286.6" cy="2327.5" r="6.25"/><circle cx="1288.4" cy="2217.8" r="6.25"/><circle cx="1290.3" cy="2200.4" r="6.25"/>
<circle cx="1292.1" cy="2290.9" r="6.25"/><circle cx="1294.0" cy="2290.0" r="6.25"/><circle cx="1295.8" cy="2247.1" r="6.25"/><circle cx="1297.7" cy="2228.3" r="6.25"/><circle cx="1299.5" cy="2220.5" r="6.25"/><circle cx="1301.4" cy="2218.1" r="6.25"/><circle cx="1303.2" cy="2215.7" r="6.25"/><circle cx="1305.0" cy="2155.3" r="6.25"/>
<circle cx="1306.9" cy="2282.2" r="6.25"/><circle cx="1308.7" cy="2145.0" r="6.25"/><circle cx="1310.6" cy="2114.8" r="6.25"/><circle cx="1312.4" cy="2226.8" r="6.25"/><circle cx="1314.3" cy="2181.0" r="6.25"/><circle cx="1316.1" cy="2217.8" r="6.25"/><circle cx="1318.0" cy="2245.3" r="6.25"/><circle cx="1319.8" cy="2140.5" r="6.25"/>
<circle cx="1321.7" cy="2228.3" r="6.25"/><circle cx="1323.5" cy="2264.9" r="6.25"/><circle cx="1325.4" cy="2143.6" r="6.25"/><circle cx="1327.2" cy="2121.6" r="6.25"/><circle cx="1329.1" cy="2045.6" r="6.25"/><circle cx="1330.9" cy="2134.2" r="6.25"/><circle cx="1332.7" cy="2127.9" r="6.25"/><circle cx="1334.6" cy="2111.7" r="6.25"/>
<circle cx="1336.4" cy="2083.0" r="6.25"/><circle cx="1338.3" cy="2137.8" r="6.25"/><circle cx="1342.0" cy="2101.3" r="6.25"/><circle cx="1343.8" cy="2132.8" r="6.25"/><circle cx="1345.7" cy="2142.8" r="6.25"/><circle cx="1347.5" cy="2051.1" r="6.25"/><circle cx="1349.4" cy="2019.7" r="6.25"/><circle cx="1351.2" cy="1979.6" r="6.25"/>
<circle cx="1353.1" cy="1994.9" r="6.25"/><circle cx="1354.9" cy="1974.7" r="6.25"/><circle cx="1356.8" cy="2029.0" r="6.25"/><circle cx="1358.6" cy="2083.3" r="6.25"/><circle cx="1360.4" cy="2214.2" r="6.25"/><circle cx="1362.3" cy="2011.9" r="6.25"/><circle cx="1364.1" cy="2080.3" r="6.25"/><circle cx="1366.0" cy="2054.6" r="6.25"/>
<circle cx="1367.8" cy="2116.8" r="6.25"/><circle cx="1369.7" cy="2167.1" r="6.25"/><circle cx="1373.4" cy="2120.7" r="6.25"/><circle cx="1375.2" cy="2184.0" r="6.25"/><circle cx="1377.1" cy="2168.9" r="6.25"/><circle cx="1378.9" cy="2163.3" r="6.25"/><circle cx="1380.8" cy="2109.9" r="6.25"/><circle cx="1382.6" cy="2116.9" r="6.25"/>
<circle cx="1384.5" cy="2123.8" r="6.25"/><circle cx="1386.3" cy="2110.8" r="6.25"/><circle cx="1388.1" cy="2069.5" r="6.25"/><circle cx="1390.0" cy="2173.2" r="6.25"/><circle cx="1391.8" cy="2108.7" r="6.25"/><circle cx="1393.7" cy="2076.1" r="6.25"/><circle cx="1395.5" cy="2300.9" r="6.25"/><circle cx="1397.4" cy="2168.4" r="6.25"/>
<circle cx="1399.2" cy="2151.8" r="6.25"/><circle cx="1401.1" cy="2147.7" r="6.25"/><circle cx="1402.9" cy="2195.4" r="6.25"/><circle cx="1404.8" cy="2202.2" r="6.25"/><circle cx="1406.6" cy="2113.5" r="6.25"/><circle cx="1408.5" cy="2142.7" r="6.25"/><circle cx="1410.3" cy="2042.0" r="6.25"/><circle cx="1412.2" cy="2076.3" r="6.25"/>
<circle cx="1414.0" cy="2119.8" r="6.25"/><circle cx="1415.8" cy="2065.3" r="6.25"/><circle cx="1417.7" cy="2095.6" r="6.25"/><circle cx="1419.5" cy="2126.7" r="6.25"/><circle cx="1421.4" cy="2075.8" r="6.25"/><circle cx="1423.2" cy="2132.4" r="6.25"/><circle cx="1425.1" cy="2106.3" r="6.25"/><circle cx="1428.8" cy="2039.4" r="6.25"/>
<circle cx="1430.6" cy="2069.5" r="6.25"/><circle cx="1432.5" cy="2075.2" r="6.25"/><circle cx="1434.3" cy="1998.8" r="6.25"/><circle cx="1436.2" cy="2065.9" r="6.25"/><circle cx="1438.0" cy="2101.5" r="6.25"/><circle cx="1439.9" cy="2144.1" r="6.25"/><circle cx="1441.7" cy="2074.3" r="6.25"/><circle cx="1443.5" cy="1991.3" r="6.25"/>
<circle cx="1445.4" cy="2014.6" r="6.25"/><circle cx="1447.2" cy="2002.4" r="6.25"/><circle cx="1449.1" cy="1967.9" r="6.25"/><circle cx="1450.9" cy="1989.5" r="6.25"/><circle cx="1452.8" cy="1917.2" r="6.25"/><circle cx="1454.6" cy="2080.8" r="6.25"/><circle cx="1456.5" cy="2043.4" r="6.25"/><circle cx="1458.3" cy="1922.0" r="6.25"/>
<circle cx="1460.2" cy="1962.8" r="6.25"/><circle cx="1462.0" cy="2062.3" r="6.25"/><circle cx="1463.9" cy="1940.0" r="6.25"/><circle cx="1465.7" cy="2113.5" r="6.25"/><circle cx="1467.6" cy="2076.7" r="6.25"/><circle cx="1469.4" cy="1931.0" r="6.25"/><circle cx="1471.2" cy="2032.3" r="6.25"/><circle cx="1473.1" cy="2103.3" r="6.25"/>
<circle cx="1474.9" cy="2146.4" r="6.25"/><circle cx="1476.8" cy="2233.5" r="6.25"/><circle cx="1478.6" cy="2173.2" r="6.25"/><circle cx="1480.5" cy="2280.0" r="6.25"/><circle cx="1482.3" cy="2083.5" r="6.25"/><circle cx="1484.2" cy="2132.8" r="6.25"/><circle cx="1486.0" cy="2091.1" r="6.25"/><circle cx="1487.9" cy="2023.6" r="6.25"/>
<circle cx="1489.7" cy="2230.4" r="6.25"/><circle cx="1491.6" cy="2113.9" r="6.25"/><circle cx="1493.4" cy="2305.2" r="6.25"/><circle cx="1495.3" cy="2121.6" r="6.25"/><circle cx="1497.1" cy="2308.4" r="6.25"/><circle cx="1498.9" cy="2143.6" r="6.25"/><circle cx="1500.8" cy="2230.8" r="6.25"/><circle cx="1502.6" cy="2221.4" r="6.25"/>
<circle cx="1504.5" cy="2110.5" r="6.25"/><circle cx="1506.3" cy="2141.0" r="6.25"/><circle cx="1508.2" cy="2171.6" r="6.25"/><circle cx="1510.0" cy="2099.5" r="6.25"/><circle cx="1511.9" cy="2086.2" r="6.25"/><circle cx="1513.7" cy="2006.4" r="6.25"/><circle cx="1515.6" cy="2136.4" r="6.25"/><circle cx="1517.4" cy="2089.8" r="6.25"/>
<circle cx="1519.3" cy="2110.8" r="6.25"/><circle cx="1521.1" cy="2201.5" r="6.25"/><circle cx="1523.0" cy="2030.3" r="6.25"/><circle cx="1524.8" cy="1974.5" r="6.25"/><circle cx="1526.6" cy="2054.7" r="6.25"/><circle cx="1528.5" cy="2112.3" r="6.25"/><circle cx="1530.3" cy="2163.3" r="6.25"/><circle cx="1532.2" cy="2196.3" r="6.25"/>
<circle cx="1534.0" cy="2325.6" r="6.25"/><circle cx="1535.9" cy="2248.0" r="6.25"/><circle cx="1537.7" cy="2172.0" r="6.25"/><circle cx="1539.6" cy="2119.8" r="6.25"/><circle cx="1541.4" cy="2110.5" r="6.25"/><circle cx="1543.3" cy="2134.2" r="6.25"/><circle cx="1545.1" cy="2139.6" r="6.25"/><circle cx="1547.0" cy="2133.0" r="6.25"/>
<circle cx="1548.8" cy="2065.5" r="6.25"/><circle cx="1550.7" cy="2182.2" r="6.25"/><circle cx="1552.5" cy="2137.5" r="6.25"/><circle cx="1554.3" cy="2194.5" r="6.25"/><circle cx="1556.2" cy="2070.4" r="6.25"/><circle cx="1558.0" cy="2183.1" r="6.25"/><circle cx="1559.9" cy="2207.0" r="6.25"/><circle cx="1563.6" cy="2172.5" r="6.25"/>
<circle cx="1565.4" cy="2117.1" r="6.25"/><circle cx="1567.3" cy="2245.7" r="6.25"/><circle cx="1569.1" cy="2155.8" r="6.25"/><circle cx="1571.0" cy="2197.5" r="6.25"/><circle cx="1572.8" cy="2150.0" r="6.25"/><circle cx="1574.7" cy="2168.0" r="6.25"/><circle cx="1576.5" cy="2245.3" r="6.25"/><circle cx="1578.4" cy="2192.7" r="6.25"/>
<circle cx="1580.2" cy="2169.3" r="6.25"/><circle cx="1582.0" cy="2201.3" r="6.25"/><circle cx="1585.7" cy="2131.2" r="6.25"/><circle cx="1587.6" cy="2145.4" r="6.25"/><circle cx="1589.4" cy="2184.2" r="6.25"/><circle cx="1591.3" cy="2197.2" r="6.25"/><circle cx="1593.1" cy="2255.2" r="6.25"/><circle cx="1595.0" cy="2106.7" r="6.25"/>
<circle cx="1596.8" cy="2107.6" r="6.25"/><circle cx="1598.7" cy="2195.4" r="6.25"/><circle cx="1600.5" cy="2136.9" r="6.25"/><circle cx="1602.4" cy="2279.6" r="6.25"/><circle cx="1604.2" cy="2254.7" r="6.25"/><circle cx="1606.0" cy="2140.5" r="6.25"/><circle cx="1607.9" cy="1945.8" r="6.25"/><circle cx="1609.7" cy="2090.5" r="6.25"/>
<circle cx="1611.6" cy="2076.7" r="6.25"/><circle cx="1613.4" cy="1983.5" r="6.25"/><circle cx="1615.3" cy="2102.4" r="6.25"/><circle cx="1617.1" cy="2160.6" r="6.25"/><circle cx="1619.0" cy="2145.4" r="6.25"/><circle cx="1620.8" cy="2155.3" r="6.25"/><circle cx="1622.7" cy="2192.1" r="6.25"/><circle cx="1624.5" cy="2227.4" r="6.25"/>
<circle cx="1626.4" cy="2298.3" r="6.25"/><circle cx="1628.2" cy="2275.7" r="6.25"/><circle cx="1630.1" cy="2272.0" r="6.25"/><circle cx="1631.9" cy="2219.3" r="6.25"/><circle cx="1633.7" cy="2234.9" r="6.25"/><circle cx="1635.6" cy="2226.8" r="6.25"/><circle cx="1637.4" cy="2162.4" r="6.25"/><circle cx="1639.3" cy="2210.6" r="6.25"/>
<circle cx="1641.1" cy="2176.5" r="6.25"/><circle cx="1643.0" cy="2199.0" r="6.25"/><circle cx="1644.8" cy="2246.2" r="6.25"/><circle cx="1646.7" cy="2229.0" r="6.25"/><circle cx="1648.5" cy="2312.6" r="6.25"/><circle cx="1650.4" cy="2264.0" r="6.25"/><circle cx="1652.2" cy="2258.6" r="6.25"/><circle cx="1654.1" cy="2253.3" r="6.25"/>
<circle cx="1655.9" cy="2368.9" r="6.25"/><circle cx="1657.8" cy="2319.7" r="6.25"/><circle cx="1659.6" cy="2231.9" r="6.25"/><circle cx="1661.4" cy="2266.6" r="6.25"/><circle cx="1663.3" cy="2274.2" r="6.25"/><circle cx="1665.1" cy="2140.9" r="6.25"/><circle cx="1667.0" cy="2133.7" r="6.25"/><circle cx="1668.8" cy="2200.7" r="6.25"/>
<circle cx="1670.7" cy="2154.9" r="6.25"/><circle cx="1672.5" cy="2099.7" r="6.25"/><circle cx="1674.4" cy="2196.6" r="6.25"/><circle cx="1676.2" cy="2232.2" r="6.25"/><circle cx="1678.1" cy="2197.7" r="6.25"/><circle cx="1679.9" cy="2237.6" r="6.25"/><circle cx="1681.8" cy="2242.6" r="6.25"/><circle cx="1683.6" cy="2156.2" r="6.25"/>
<circle cx="1685.5" cy="2222.9" r="6.25"/><circle cx="1687.3" cy="2144.1" r="6.25"/><circle cx="1689.1" cy="2084.4" r="6.25"/><circle cx="1691.0" cy="2277.0" r="6.25"/><circle cx="1692.8" cy="2116.8" r="6.25"/><circle cx="1694.7" cy="2112.3" r="6.25"/><circle cx="1696.5" cy="2230.4" r="6.25"/><circle cx="1698.4" cy="2183.1" r="6.25"/>
<circle cx="1700.2" cy="2253.4" r="6.25"/><circle cx="1702.1" cy="2084.4" r="6.25"/><circle cx="1703.9" cy="2074.0" r="6.25"/><circle cx="1705.8" cy="2051.5" r="6.25"/><circle cx="1707.6" cy="2145.0" r="6.25"/><circle cx="1709.5" cy="2202.0" r="6.25"/><circle cx="1711.3" cy="2135.1" r="6.25"/><circle cx="1713.2" cy="2155.3" r="6.25"/>
<circle cx="1715.0" cy="2068.0" r="6.25"/><circle cx="1716.8" cy="2101.8" r="6.25"/><circle cx="1718.7" cy="2083.0" r="6.25"/><circle cx="1720.5" cy="2159.7" r="6.25"/><circle cx="1722.4" cy="2207.0" r="6.25"/><circle cx="1724.2" cy="2090.7" r="6.25"/><circle cx="1726.1" cy="2208.8" r="6.25"/><circle cx="1727.9" cy="2174.3" r="6.25"/>
<circle cx="1729.8" cy="2044.8" r="6.25"/><circle cx="1731.6" cy="2076.7" r="6.25"/><circle cx="1733.5" cy="1988.0" r="6.25"/><circle cx="1735.3" cy="2093.2" r="6.25"/><circle cx="1737.2" cy="1911.2" r="6.25"/><circle cx="1739.0" cy="2011.2" r="6.25"/><circle cx="1740.9" cy="2026.3" r="6.25"/><circle cx="1742.7" cy="2181.5" r="6.25"/>
<circle cx="1744.5" cy="2112.3" r="6.25"/><circle cx="1746.4" cy="2032.6" r="6.25"/><circle cx="1748.2" cy="2116.8" r="6.25"/><circle cx="1750.1" cy="2140.5" r="6.25"/><circle cx="1751.9" cy="2141.9" r="6.25"/><circle cx="1753.8" cy="2177.4" r="6.25"/><circle cx="1755.6" cy="2410.8" r="6.25"/><circle cx="1757.5" cy="2321.7" r="6.25"/>
<circle cx="1759.3" cy="2201.3" r="6.25"/><circle cx="1761.2" cy="2272.5" r="6.25"/><circle cx="1763.0" cy="2347.9" r="6.25"/><circle cx="1764.9" cy="2341.4" r="6.25"/><circle cx="1766.7" cy="2265.9" r="6.25"/><circle cx="1768.6" cy="2394.7" r="6.25"/><circle cx="1770.4" cy="2344.7" r="6.25"/><circle cx="1772.2" cy="2288.9" r="6.25"/>
<circle cx="1774.1" cy="2337.5" r="6.25"/><circle cx="1775.9" cy="2363.7" r="6.25"/><circle cx="1777.8" cy="2329.0" r="6.25"/><circle cx="1779.6" cy="2339.2" r="6.25"/><circle cx="1781.5" cy="2170.2" r="6.25"/><circle cx="1783.3" cy="2247.5" r="6.25"/><circle cx="1785.2" cy="2358.1" r="6.25"/><circle cx="1787.0" cy="2240.8" r="6.25"/>
<circle cx="1788.9" cy="2204.7" r="6.25"/><circle cx="1790.7" cy="2252.9" r="6.25"/><circle cx="1792.6" cy="2267.0" r="6.25"/><circle cx="1794.4" cy="2126.5" r="6.25"/><circle cx="1796.3" cy="2100.4" r="6.25"/><circle cx="1798.1" cy="2193.9" r="6.25"/><circle cx="1799.9" cy="2304.1" r="6.25"/><circle cx="1801.8" cy="2254.2" r="6.25"/>
<circle cx="1803.6" cy="2180.4" r="6.25"/><circle cx="1805.5" cy="2196.6" r="6.25"/><circle cx="1807.3" cy="2144.1" r="6.25"/><circle cx="1809.2" cy="2205.2" r="6.25"/><circle cx="1811.0" cy="2195.4" r="6.25"/><circle cx="1812.9" cy="2158.1" r="6.25"/><circle cx="1814.7" cy="2199.0" r="6.25"/><circle cx="1816.6" cy="2120.2" r="6.25"/>
<circle cx="1818.4" cy="2168.0" r="6.25"/><circle cx="1820.3" cy="2102.7" r="6.25"/><circle cx="1822.1" cy="2081.7" r="6.25"/><circle cx="1824.0" cy="2097.9" r="6.25"/><circle cx="1825.8" cy="2075.8" r="6.25"/><circle cx="1827.6" cy="2199.0" r="6.25"/><circle cx="1829.5" cy="2252.9" r="6.25"/><circle cx="1831.3" cy="2298.9" r="6.25"/>
<circle cx="1833.2" cy="2193.2" r="6.25"/><circle cx="1835.0" cy="2316.0" r="6.25"/><circle cx="1836.9" cy="2211.2" r="6.25"/><circle cx="1838.7" cy="2206.1" r="6.25"/><circle cx="1840.6" cy="2315.4" r="6.25"/><circle cx="1842.4" cy="2379.1" r="6.25"/><circle cx="1844.3" cy="2202.2" r="6.25"/><circle cx="1846.1" cy="2228.6" r="6.25"/>
<circle cx="1848.0" cy="2127.6" r="6.25"/><circle cx="1849.8" cy="2145.4" r="6.25"/><circle cx="1851.7" cy="2186.0" r="6.25"/>
</g>
<rect class="f" x="226.0" y="1838.1" width="1657.7" height="637.8"/>
<text class="b" font-size="43.0" text-anchor="end" transform="translate(190.20,1889.6) scale(0.972,1.045)">60</text>
<text class="b" font-size="43.0" text-anchor="end" transform="translate(190.20,2002.7) scale(0.972,1.045)">40</text>
<text class="b" font-size="43.0" text-anchor="end" transform="translate(190.20,2115.7) scale(0.972,1.045)">20</text>
<text class="b" font-size="43.0" text-anchor="end" transform="translate(190.20,2228.7) scale(0.972,1.045)">0</text>
<text class="b" font-size="43.0" text-anchor="end" transform="translate(190.20,2341.7) scale(0.972,1.045)">20</text>
<rect x="120.8" y="2328.7" width="21.1" height="4.9"/>
<text class="b" font-size="43.0" text-anchor="end" transform="translate(190.20,2454.7) scale(0.972,1.045)">40</text>
<rect x="120.8" y="2441.7" width="21.1" height="4.9"/>
<text class="b" font-size="43.0" text-anchor="end" transform="translate(269.62,2543.2) scale(0.972,1.045)">0</text>
<text class="b" font-size="43.0" text-anchor="end" transform="translate(402.58,2543.2) scale(0.972,1.045)">6</text>
<text class="b" font-size="43.0" text-anchor="end" transform="translate(547.16,2543.2) scale(0.972,1.045)">12</text>
<text class="b" font-size="43.0" text-anchor="end" transform="translate(680.12,2543.2) scale(0.972,1.045)">18</text>
<text class="b" font-size="43.0" text-anchor="end" transform="translate(813.08,2543.2) scale(0.972,1.045)">24</text>
<text class="b" font-size="43.0" text-anchor="end" transform="translate(946.04,2543.2) scale(0.972,1.045)">30</text>
<text class="b" font-size="43.0" text-anchor="end" transform="translate(1079.00,2543.2) scale(0.972,1.045)">36</text>
<text class="b" font-size="43.0" text-anchor="end" transform="translate(1211.96,2543.2) scale(0.972,1.045)">42</text>
<text class="b" font-size="43.0" text-anchor="end" transform="translate(1344.91,2543.2) scale(0.972,1.045)">48</text>
<text class="b" font-size="43.0" text-anchor="end" transform="translate(1477.87,2543.2) scale(0.972,1.045)">54</text>
<text class="b" font-size="43.0" text-anchor="end" transform="translate(1610.83,2543.2) scale(0.972,1.045)">60</text>
<text class="b" font-size="43.0" text-anchor="end" transform="translate(1743.79,2543.2) scale(0.972,1.045)">66</text>
<text class="b" font-size="43.0" text-anchor="end" transform="translate(1876.75,2543.2) scale(0.972,1.045)">72</text>
<text font-size="43" transform="translate(90,2238.76) rotate(-90) scale(0.9791,1.0)">Up (mm)</text>
<text font-size="43" transform="translate(627.80,2600.9) scale(0.9862,1.0)">Time (hours since beginning of first day UTC)</text>
<rect class="f" x="226.0" y="2704.8" width="1657.7" height="153.4"/>
<text class="b" font-size="42.3" transform="translate(704.89,2743.5) scale(1.0032,1.035)">Processed Using JPL Rapid Orbits</text>
<text class="b" font-size="42.3" transform="translate(691.29,2783.9) scale(1.0042,1.035)">by the Nevada Geodetic Laboratory.</text>
<text class="b" font-size="42.3" transform="translate(818.40,2824.7) scale(1.0021,1.035)">Plotted on 2026-Jan-10.</text>
</svg>
</body></html>
